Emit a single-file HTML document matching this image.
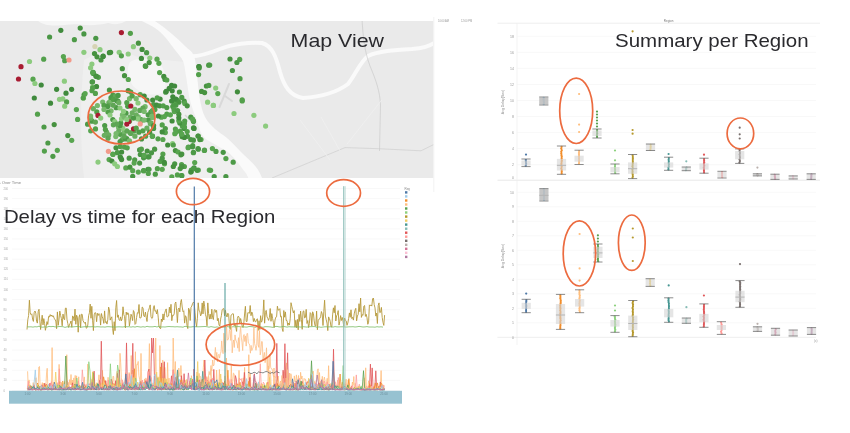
<!DOCTYPE html>
<html><head><meta charset="utf-8"><title>Dashboard</title>
<style>html,body{margin:0;padding:0;background:#fff;width:850px;height:433px;overflow:hidden}svg{display:block;filter:blur(0.3px)}</style>
</head><body>
<svg width="850" height="433" viewBox="0 0 850 433"><defs><filter id="soft" x="-5%" y="-5%" width="110%" height="110%"><feGaussianBlur stdDeviation="0.35"/></filter><clipPath id="mapclip"><rect x="0" y="21" width="433.5" height="157"/></clipPath></defs>
<g clip-path="url(#mapclip)">
<rect x="0" y="21" width="433.5" height="157" fill="#eaeaea"/>
<path d="M84 60 C100 50 120 48 140 58 L186 62 C192 80 196 110 202 130 C215 145 235 155 250 178 L84 178 C80 140 80 100 84 60Z" fill="#efefef"/>
<path d="M130 62 C138 57 152 58 160 64 C167 72 168 86 162 93 C152 97 140 93 133 86 C128 78 126 68 130 62Z" fill="#f6f6f6"/>
<path d="M100 19 C108 24 116 26 124 22 L130 19Z" fill="#f5f5f5"/>
<path d="M36 19 C40 24 48 26 58 25.5 C66 25 72 23.5 80 24.5 C90 26 100 25 108 23 C112 22 116 21 120 19Z" fill="#f6f6f6"/>
<path d="M138.0 19.0 C140.8 20.5 150.5 25.0 155.0 28.0 C159.5 31.0 161.7 33.3 165.0 37.0 C168.3 40.7 172.0 46.0 175.0 50.0 C178.0 54.0 181.2 56.7 183.0 61.0 C184.8 65.3 184.8 69.5 186.0 76.0 C187.2 82.5 188.3 93.0 190.0 100.0 C191.7 107.0 193.8 112.0 196.0 118.0 C198.2 124.0 199.7 131.5 203.0 136.0 C206.3 140.5 211.5 142.0 216.0 145.0 C220.5 148.0 225.2 149.5 230.0 154.0 C234.8 158.5 241.8 167.7 245.0 172.0 C248.2 176.3 248.3 178.7 249.0 180.0 L263.0 180.0 C261.8 177.8 259.7 171.7 256.0 167.0 C252.3 162.3 245.8 156.8 241.0 152.0 C236.2 147.2 231.3 141.8 227.0 138.0 C222.7 134.2 218.7 132.5 215.0 129.0 C211.3 125.5 207.5 121.8 205.0 117.0 C202.5 112.2 201.3 106.8 200.0 100.0 C198.7 93.2 198.0 83.3 197.0 76.0 C196.0 68.7 196.0 61.0 194.0 56.0 C192.0 51.0 188.7 49.7 185.0 46.0 C181.3 42.3 175.8 37.3 172.0 34.0 C168.2 30.7 165.3 28.5 162.0 26.0 C158.7 23.5 153.7 20.2 152.0 19.0 Z" fill="#fafafa"/>
<path d="M188 56 C195 57 205 55 220 49 C232 44 250 42 262 43 C272 46 276 56 280 72 C284 86 290 96 303 98 C318 97 336 93 348 84 C356 74 360 62 368 56 C378 51 395 50 412 49 C422 48 430 46 434 43" fill="none" stroke="#fafafa" stroke-width="4" stroke-linejoin="round" stroke-linecap="round"/>
<path d="M362 19 C363 35 364 50 370 66 C376 80 380 92 380.5 105 L379.5 151" fill="none" stroke="#c6c6c6" stroke-width="0.6"/>
<path d="M272 178 L345 147.6 L378.5 148.7 L421 150.8 L434 144.4" fill="none" stroke="#c9c9c9" stroke-width="0.6"/>
<path d="M381.7 100 L346.8 144.4 M321 117 L340 150.8 M300 120 L330 160" fill="none" stroke="#f1f1f1" stroke-width="0.7"/>
<path d="M229 84 L219.5 107 M225 96 L232 101" fill="none" stroke="#d9d9d9" stroke-width="2" stroke-linecap="round"/>
<path d="M185 115 L195 125" fill="none" stroke="#d6d6d6" stroke-width="1.4"/>
<g filter="url(#soft)">
<circle cx="104.3" cy="135.3" r="2.6" fill="#6aae5f"/>
<circle cx="120.8" cy="122.9" r="2.6" fill="#4e9a47"/>
<circle cx="138.0" cy="118.4" r="2.6" fill="#4e9a47"/>
<circle cx="108.9" cy="102.5" r="2.6" fill="#6aae5f"/>
<circle cx="95.5" cy="128.9" r="2.6" fill="#52a04a"/>
<circle cx="117.9" cy="101.1" r="2.6" fill="#4e9a47"/>
<circle cx="145.1" cy="106.7" r="2.6" fill="#78b96c"/>
<circle cx="116.2" cy="107.7" r="2.6" fill="#4e9a47"/>
<circle cx="129.5" cy="121.3" r="2.6" fill="#5ea655"/>
<circle cx="127.7" cy="106.3" r="2.6" fill="#4e9a47"/>
<circle cx="108.2" cy="105.7" r="2.6" fill="#5ea655"/>
<circle cx="110.8" cy="100.4" r="2.6" fill="#78b96c"/>
<circle cx="133.9" cy="130.9" r="2.6" fill="#52a04a"/>
<circle cx="91.9" cy="121.2" r="2.6" fill="#4e9a47"/>
<circle cx="90.6" cy="118.2" r="2.6" fill="#6aae5f"/>
<circle cx="106.6" cy="132.0" r="2.6" fill="#6aae5f"/>
<circle cx="90.6" cy="116.0" r="2.6" fill="#78b96c"/>
<circle cx="151.4" cy="112.6" r="2.6" fill="#4e9a47"/>
<circle cx="141.0" cy="119.7" r="2.6" fill="#4e9a47"/>
<circle cx="138.3" cy="116.8" r="2.6" fill="#78b96c"/>
<circle cx="97.4" cy="105.6" r="2.6" fill="#78b96c"/>
<circle cx="150.3" cy="123.8" r="2.6" fill="#6aae5f"/>
<circle cx="141.1" cy="120.7" r="2.6" fill="#6aae5f"/>
<circle cx="129.9" cy="132.5" r="2.6" fill="#6aae5f"/>
<circle cx="112.9" cy="95.2" r="2.6" fill="#4e9a47"/>
<circle cx="124.4" cy="131.7" r="2.6" fill="#78b96c"/>
<circle cx="113.2" cy="105.2" r="2.6" fill="#5ea655"/>
<circle cx="139.8" cy="110.4" r="2.6" fill="#5ea655"/>
<circle cx="130.1" cy="117.2" r="2.6" fill="#6aae5f"/>
<circle cx="126.7" cy="138.6" r="2.6" fill="#4e9a47"/>
<circle cx="142.8" cy="110.1" r="2.6" fill="#5ea655"/>
<circle cx="96.8" cy="111.9" r="2.6" fill="#52a04a"/>
<circle cx="122.1" cy="139.6" r="2.6" fill="#5ea655"/>
<circle cx="120.2" cy="134.3" r="2.6" fill="#52a04a"/>
<circle cx="122.4" cy="114.9" r="2.6" fill="#78b96c"/>
<circle cx="126.0" cy="113.2" r="2.6" fill="#4e9a47"/>
<circle cx="118.5" cy="127.2" r="2.6" fill="#78b96c"/>
<circle cx="111.1" cy="110.8" r="2.6" fill="#78b96c"/>
<circle cx="115.8" cy="136.6" r="2.6" fill="#78b96c"/>
<circle cx="111.0" cy="97.5" r="2.6" fill="#4e9a47"/>
<circle cx="172.1" cy="121.0" r="2.6" fill="#428d3e"/>
<circle cx="187.5" cy="136.3" r="2.6" fill="#4e9a47"/>
<circle cx="182.3" cy="126.0" r="2.6" fill="#53a04c"/>
<circle cx="179.8" cy="123.1" r="2.6" fill="#46923f"/>
<circle cx="182.2" cy="136.7" r="2.6" fill="#46923f"/>
<circle cx="165.7" cy="92.2" r="2.6" fill="#4e9a47"/>
<circle cx="160.1" cy="99.1" r="2.6" fill="#428d3e"/>
<circle cx="165.3" cy="128.5" r="2.6" fill="#4e9a47"/>
<circle cx="152.5" cy="110.5" r="2.6" fill="#53a04c"/>
<circle cx="184.2" cy="101.2" r="2.6" fill="#4a9644"/>
<circle cx="152.7" cy="100.1" r="2.6" fill="#428d3e"/>
<circle cx="153.6" cy="128.4" r="2.6" fill="#4a9644"/>
<circle cx="157.2" cy="97.8" r="2.6" fill="#53a04c"/>
<circle cx="184.2" cy="128.5" r="2.6" fill="#428d3e"/>
<circle cx="174.8" cy="133.7" r="2.6" fill="#58a550"/>
<circle cx="152.5" cy="136.2" r="2.6" fill="#428d3e"/>
<circle cx="174.0" cy="103.1" r="2.6" fill="#58a550"/>
<circle cx="184.7" cy="121.0" r="2.6" fill="#53a04c"/>
<circle cx="174.4" cy="111.6" r="2.6" fill="#58a550"/>
<circle cx="177.4" cy="100.1" r="2.6" fill="#58a550"/>
<circle cx="151.3" cy="115.2" r="2.6" fill="#428d3e"/>
<circle cx="165.3" cy="132.6" r="2.6" fill="#58a550"/>
<circle cx="143.6" cy="157.8" r="2.6" fill="#4e9a47"/>
<circle cx="160.1" cy="161.4" r="2.6" fill="#53a04c"/>
<circle cx="191.3" cy="170.0" r="2.6" fill="#4a9644"/>
<circle cx="147.2" cy="151.0" r="2.6" fill="#46923f"/>
<circle cx="157.4" cy="168.7" r="2.6" fill="#53a04c"/>
<circle cx="171.8" cy="176.8" r="2.6" fill="#58a550"/>
<circle cx="120.8" cy="158.0" r="2.6" fill="#4a9644"/>
<circle cx="140.3" cy="154.5" r="2.6" fill="#4a9644"/>
<circle cx="134.7" cy="159.8" r="2.6" fill="#4e9a47"/>
<circle cx="151.5" cy="152.8" r="2.6" fill="#4a9644"/>
<circle cx="112.8" cy="154.0" r="2.6" fill="#53a04c"/>
<circle cx="113.0" cy="154.5" r="2.6" fill="#58a550"/>
<circle cx="164.5" cy="163.8" r="2.6" fill="#58a550"/>
<circle cx="194.7" cy="162.5" r="2.6" fill="#58a550"/>
<circle cx="60.8" cy="30.3" r="2.6" fill="#3f8a3c"/>
<circle cx="80.2" cy="28.1" r="2.6" fill="#46923f"/>
<circle cx="83.9" cy="33.9" r="2.6" fill="#4a9644"/>
<circle cx="49.6" cy="37.0" r="2.6" fill="#4a9644"/>
<circle cx="74.4" cy="39.7" r="2.6" fill="#4e9a47"/>
<circle cx="95.8" cy="38.3" r="2.6" fill="#4a9644"/>
<circle cx="94.9" cy="46.5" r="2.6" fill="#d6d3b4"/>
<circle cx="100" cy="49.7" r="2.6" fill="#8ccb7e"/>
<circle cx="83.9" cy="52.3" r="2.6" fill="#8ccb7e"/>
<circle cx="63.4" cy="56.6" r="2.6" fill="#58a550"/>
<circle cx="64.7" cy="60.7" r="2.6" fill="#53a04c"/>
<circle cx="69" cy="60" r="2.6" fill="#f29a8a"/>
<circle cx="43.7" cy="59.2" r="2.6" fill="#53a04c"/>
<circle cx="29.5" cy="61.5" r="2.6" fill="#8ccb7e"/>
<circle cx="21" cy="66.7" r="2.6" fill="#a81d32"/>
<circle cx="94.5" cy="53.6" r="2.6" fill="#46923f"/>
<circle cx="97" cy="56.8" r="2.6" fill="#46923f"/>
<circle cx="103" cy="56.4" r="2.6" fill="#428d3e"/>
<circle cx="101" cy="60" r="2.6" fill="#4a9644"/>
<circle cx="109.4" cy="52.7" r="2.6" fill="#428d3e"/>
<circle cx="91.9" cy="64" r="2.6" fill="#8ccb7e"/>
<circle cx="90.6" cy="67.8" r="2.6" fill="#8ccb7e"/>
<circle cx="93.2" cy="72.4" r="2.6" fill="#46923f"/>
<circle cx="121.4" cy="32.6" r="2.6" fill="#a81d32"/>
<circle cx="130.4" cy="33.3" r="2.6" fill="#53a04c"/>
<circle cx="138.4" cy="43.2" r="2.6" fill="#46923f"/>
<circle cx="133.4" cy="46.7" r="2.6" fill="#8ccb7e"/>
<circle cx="142.1" cy="49.4" r="2.6" fill="#428d3e"/>
<circle cx="146.6" cy="52.7" r="2.6" fill="#4e9a47"/>
<circle cx="110.6" cy="52.3" r="2.6" fill="#46923f"/>
<circle cx="119.2" cy="52.3" r="2.6" fill="#8ccb7e"/>
<circle cx="121.4" cy="55.8" r="2.6" fill="#53a04c"/>
<circle cx="128.2" cy="54" r="2.6" fill="#8ccb7e"/>
<circle cx="103.2" cy="56.2" r="2.6" fill="#428d3e"/>
<circle cx="141.4" cy="58.4" r="2.6" fill="#428d3e"/>
<circle cx="149.8" cy="58.1" r="2.6" fill="#8ccb7e"/>
<circle cx="149.2" cy="62.6" r="2.6" fill="#46923f"/>
<circle cx="145.3" cy="65.9" r="2.6" fill="#46923f"/>
<circle cx="157" cy="59.2" r="2.6" fill="#58a550"/>
<circle cx="158.9" cy="63.3" r="2.6" fill="#58a550"/>
<circle cx="122.3" cy="68.7" r="2.6" fill="#46923f"/>
<circle cx="199" cy="66.5" r="2.6" fill="#428d3e"/>
<circle cx="208.7" cy="65.2" r="2.6" fill="#4a9644"/>
<circle cx="18.5" cy="79" r="2.6" fill="#a81d32"/>
<circle cx="33" cy="79.2" r="2.6" fill="#58a550"/>
<circle cx="34.9" cy="83.5" r="2.6" fill="#8ccb7e"/>
<circle cx="41.2" cy="85" r="2.6" fill="#3f8a3c"/>
<circle cx="64.4" cy="81.2" r="2.6" fill="#8ccb7e"/>
<circle cx="56.6" cy="89.3" r="2.6" fill="#3f8a3c"/>
<circle cx="66" cy="93.2" r="2.6" fill="#3f8a3c"/>
<circle cx="71.6" cy="89.3" r="2.6" fill="#3f8a3c"/>
<circle cx="34.3" cy="98" r="2.6" fill="#3f8a3c"/>
<circle cx="59.5" cy="99.3" r="2.6" fill="#8ccb7e"/>
<circle cx="62.8" cy="98.9" r="2.6" fill="#8ccb7e"/>
<circle cx="66.6" cy="101.9" r="2.6" fill="#53a04c"/>
<circle cx="64.7" cy="106.2" r="2.6" fill="#8ccb7e"/>
<circle cx="50.5" cy="103.2" r="2.6" fill="#3f8a3c"/>
<circle cx="76.4" cy="109.6" r="2.6" fill="#58a550"/>
<circle cx="37.5" cy="114.2" r="2.6" fill="#53a04c"/>
<circle cx="77.6" cy="119.4" r="2.6" fill="#58a550"/>
<circle cx="93.2" cy="73.4" r="2.6" fill="#4e9a47"/>
<circle cx="95.8" cy="76" r="2.6" fill="#46923f"/>
<circle cx="98.4" cy="77.3" r="2.6" fill="#53a04c"/>
<circle cx="92.5" cy="81.8" r="2.6" fill="#46923f"/>
<circle cx="92.5" cy="87" r="2.6" fill="#8ccb7e"/>
<circle cx="96.4" cy="86.7" r="2.6" fill="#8ccb7e"/>
<circle cx="84.1" cy="94.8" r="2.6" fill="#46923f"/>
<circle cx="83.5" cy="98" r="2.6" fill="#8ccb7e"/>
<circle cx="124.5" cy="75.7" r="2.6" fill="#46923f"/>
<circle cx="128.3" cy="79.5" r="2.6" fill="#58a550"/>
<circle cx="92.7" cy="72.5" r="2.6" fill="#58a550"/>
<circle cx="96.5" cy="76.4" r="2.6" fill="#46923f"/>
<circle cx="92.1" cy="82" r="2.6" fill="#4e9a47"/>
<circle cx="96.5" cy="86.5" r="2.6" fill="#428d3e"/>
<circle cx="92.7" cy="87.8" r="2.6" fill="#53a04c"/>
<circle cx="85.1" cy="93.5" r="2.6" fill="#58a550"/>
<circle cx="83.2" cy="98" r="2.6" fill="#53a04c"/>
<circle cx="87.6" cy="124.2" r="2.6" fill="#4e9a47"/>
<circle cx="139.6" cy="149.9" r="2.6" fill="#4a9644"/>
<circle cx="116" cy="147.8" r="2.6" fill="#46923f"/>
<circle cx="120.2" cy="146.4" r="2.6" fill="#53a04c"/>
<circle cx="124.4" cy="147.1" r="2.6" fill="#53a04c"/>
<circle cx="127.2" cy="147.8" r="2.6" fill="#53a04c"/>
<circle cx="117.4" cy="152.7" r="2.6" fill="#4e9a47"/>
<circle cx="121.6" cy="152" r="2.6" fill="#428d3e"/>
<circle cx="120.2" cy="156.8" r="2.6" fill="#428d3e"/>
<circle cx="121.6" cy="159.6" r="2.6" fill="#428d3e"/>
<circle cx="108.4" cy="151.3" r="2.6" fill="#f29a8a"/>
<circle cx="109.1" cy="159.6" r="2.6" fill="#58a550"/>
<circle cx="111.9" cy="161" r="2.6" fill="#428d3e"/>
<circle cx="114.7" cy="163.8" r="2.6" fill="#8ccb7e"/>
<circle cx="117.4" cy="166.5" r="2.6" fill="#8ccb7e"/>
<circle cx="98" cy="162.1" r="2.6" fill="#8ccb7e"/>
<circle cx="129.2" cy="158.2" r="2.6" fill="#4a9644"/>
<circle cx="134.1" cy="163.1" r="2.6" fill="#58a550"/>
<circle cx="139.6" cy="163.1" r="2.6" fill="#4a9644"/>
<circle cx="125.8" cy="167.9" r="2.6" fill="#58a550"/>
<circle cx="129.9" cy="167.2" r="2.6" fill="#46923f"/>
<circle cx="132.7" cy="170.7" r="2.6" fill="#58a550"/>
<circle cx="138.3" cy="172.1" r="2.6" fill="#58a550"/>
<circle cx="143.8" cy="170.7" r="2.6" fill="#53a04c"/>
<circle cx="148" cy="169.3" r="2.6" fill="#428d3e"/>
<circle cx="143.8" cy="155.4" r="2.6" fill="#4a9644"/>
<circle cx="148" cy="156.8" r="2.6" fill="#4a9644"/>
<circle cx="132.7" cy="176.3" r="2.6" fill="#4a9644"/>
<circle cx="145.7" cy="66.3" r="2.6" fill="#4e9a47"/>
<circle cx="162.2" cy="124.9" r="2.6" fill="#53a04c"/>
<circle cx="162.2" cy="131.9" r="2.6" fill="#428d3e"/>
<circle cx="158" cy="138.8" r="2.6" fill="#53a04c"/>
<circle cx="162.9" cy="139.5" r="2.6" fill="#58a550"/>
<circle cx="175.4" cy="129.1" r="2.6" fill="#53a04c"/>
<circle cx="176.1" cy="131.9" r="2.6" fill="#58a550"/>
<circle cx="180.2" cy="131.2" r="2.6" fill="#53a04c"/>
<circle cx="181.6" cy="134.6" r="2.6" fill="#46923f"/>
<circle cx="184.4" cy="137.4" r="2.6" fill="#428d3e"/>
<circle cx="178.8" cy="120.8" r="2.6" fill="#58a550"/>
<circle cx="184.4" cy="123.5" r="2.6" fill="#53a04c"/>
<circle cx="193.4" cy="120.8" r="2.6" fill="#46923f"/>
<circle cx="194.1" cy="128.4" r="2.6" fill="#428d3e"/>
<circle cx="198.3" cy="136" r="2.6" fill="#58a550"/>
<circle cx="201" cy="139.5" r="2.6" fill="#58a550"/>
<circle cx="193.4" cy="140.2" r="2.6" fill="#4a9644"/>
<circle cx="192.7" cy="145.7" r="2.6" fill="#4e9a47"/>
<circle cx="188.5" cy="147.1" r="2.6" fill="#46923f"/>
<circle cx="198.3" cy="149.2" r="2.6" fill="#4a9644"/>
<circle cx="204.5" cy="150.2" r="2.6" fill="#4a9644"/>
<circle cx="193.4" cy="152.7" r="2.6" fill="#53a04c"/>
<circle cx="167.7" cy="145" r="2.6" fill="#428d3e"/>
<circle cx="172.6" cy="143.7" r="2.6" fill="#8ccb7e"/>
<circle cx="173.3" cy="145" r="2.6" fill="#53a04c"/>
<circle cx="154.6" cy="149.2" r="2.6" fill="#4a9644"/>
<circle cx="141.4" cy="149.2" r="2.6" fill="#53a04c"/>
<circle cx="144.2" cy="155.4" r="2.6" fill="#58a550"/>
<circle cx="149" cy="156.8" r="2.6" fill="#4a9644"/>
<circle cx="162.9" cy="154.1" r="2.6" fill="#53a04c"/>
<circle cx="162.2" cy="158.2" r="2.6" fill="#4a9644"/>
<circle cx="164.3" cy="162.4" r="2.6" fill="#428d3e"/>
<circle cx="175.4" cy="150.6" r="2.6" fill="#46923f"/>
<circle cx="178.1" cy="152" r="2.6" fill="#58a550"/>
<circle cx="180.9" cy="154.8" r="2.6" fill="#46923f"/>
<circle cx="174.7" cy="163.8" r="2.6" fill="#4a9644"/>
<circle cx="173.3" cy="166.5" r="2.6" fill="#46923f"/>
<circle cx="181.6" cy="164.5" r="2.6" fill="#53a04c"/>
<circle cx="184.4" cy="166.5" r="2.6" fill="#53a04c"/>
<circle cx="180.2" cy="168.6" r="2.6" fill="#4a9644"/>
<circle cx="194.1" cy="167.9" r="2.6" fill="#428d3e"/>
<circle cx="198.3" cy="170" r="2.6" fill="#53a04c"/>
<circle cx="191.3" cy="171.4" r="2.6" fill="#58a550"/>
<circle cx="162.2" cy="169.3" r="2.6" fill="#58a550"/>
<circle cx="143.5" cy="170.7" r="2.6" fill="#53a04c"/>
<circle cx="149" cy="169.3" r="2.6" fill="#4e9a47"/>
<circle cx="148.3" cy="173.5" r="2.6" fill="#53a04c"/>
<circle cx="155.3" cy="174.2" r="2.6" fill="#4e9a47"/>
<circle cx="177.4" cy="174.9" r="2.6" fill="#53a04c"/>
<circle cx="181.6" cy="175.6" r="2.6" fill="#53a04c"/>
<circle cx="209.3" cy="170" r="2.6" fill="#58a550"/>
<circle cx="213.3" cy="105.4" r="2.6" fill="#8ccb7e"/>
<circle cx="242.2" cy="100.9" r="2.6" fill="#53a04c"/>
<circle cx="234" cy="113.5" r="2.6" fill="#8ccb7e"/>
<circle cx="253.9" cy="115.3" r="2.6" fill="#8ccb7e"/>
<circle cx="265.6" cy="126.1" r="2.6" fill="#8ccb7e"/>
<circle cx="193.5" cy="121.6" r="2.6" fill="#53a04c"/>
<circle cx="193.5" cy="127.9" r="2.6" fill="#428d3e"/>
<circle cx="198" cy="136" r="2.6" fill="#46923f"/>
<circle cx="199.8" cy="139.6" r="2.6" fill="#46923f"/>
<circle cx="188.1" cy="147.7" r="2.6" fill="#58a550"/>
<circle cx="192.6" cy="146.8" r="2.6" fill="#4a9644"/>
<circle cx="198" cy="148.6" r="2.6" fill="#4a9644"/>
<circle cx="193.5" cy="152.3" r="2.6" fill="#4e9a47"/>
<circle cx="204.3" cy="150.5" r="2.6" fill="#53a04c"/>
<circle cx="212.4" cy="148.6" r="2.6" fill="#58a550"/>
<circle cx="216" cy="151.4" r="2.6" fill="#4e9a47"/>
<circle cx="223.2" cy="152.3" r="2.6" fill="#4a9644"/>
<circle cx="225.9" cy="158.6" r="2.6" fill="#53a04c"/>
<circle cx="233.2" cy="162.2" r="2.6" fill="#4e9a47"/>
<circle cx="210.6" cy="170.3" r="2.6" fill="#53a04c"/>
<circle cx="193.5" cy="168.5" r="2.6" fill="#4e9a47"/>
<circle cx="197.1" cy="170.3" r="2.6" fill="#4a9644"/>
<circle cx="190.8" cy="172.1" r="2.6" fill="#428d3e"/>
<circle cx="214.2" cy="176.6" r="2.6" fill="#4a9644"/>
<circle cx="225.9" cy="176.6" r="2.6" fill="#4a9644"/>
<circle cx="181.8" cy="166.7" r="2.6" fill="#46923f"/>
<circle cx="181.8" cy="154" r="2.6" fill="#46923f"/>
<circle cx="181.8" cy="134.2" r="2.6" fill="#58a550"/>
<circle cx="184.5" cy="127" r="2.6" fill="#53a04c"/>
<circle cx="187.2" cy="131.5" r="2.6" fill="#53a04c"/>
<circle cx="190.8" cy="139.6" r="2.6" fill="#4a9644"/>
<circle cx="181.8" cy="175.7" r="2.6" fill="#4e9a47"/>
<circle cx="198.9" cy="66.6" r="2.6" fill="#428d3e"/>
<circle cx="209.7" cy="65" r="2.6" fill="#4e9a47"/>
<circle cx="230" cy="59" r="2.6" fill="#46923f"/>
<circle cx="239.7" cy="59.4" r="2.6" fill="#53a04c"/>
<circle cx="236.9" cy="62.5" r="2.6" fill="#4a9644"/>
<circle cx="232.4" cy="70.5" r="2.6" fill="#4a9644"/>
<circle cx="240" cy="78.7" r="2.6" fill="#4e9a47"/>
<circle cx="215.7" cy="88.1" r="2.6" fill="#8ccb7e"/>
<circle cx="217.8" cy="93.6" r="2.6" fill="#58a550"/>
<circle cx="237.4" cy="91.8" r="2.6" fill="#428d3e"/>
<circle cx="242.2" cy="99.9" r="2.6" fill="#53a04c"/>
<circle cx="213.4" cy="105.4" r="2.6" fill="#8ccb7e"/>
<circle cx="44" cy="127" r="2.6" fill="#4e9a47"/>
<circle cx="54.2" cy="124.6" r="2.6" fill="#46923f"/>
<circle cx="67.8" cy="135.6" r="2.6" fill="#46923f"/>
<circle cx="71.7" cy="140.3" r="2.6" fill="#58a550"/>
<circle cx="47.9" cy="143" r="2.6" fill="#4e9a47"/>
<circle cx="44.4" cy="151.1" r="2.6" fill="#53a04c"/>
<circle cx="57.3" cy="150.3" r="2.6" fill="#58a550"/>
<circle cx="52.9" cy="156.3" r="2.6" fill="#4e9a47"/>
<circle cx="92" cy="90.7" r="2.6" fill="#53a04c"/>
<circle cx="95.4" cy="93.4" r="2.6" fill="#53a04c"/>
<circle cx="109.4" cy="90" r="2.6" fill="#4a9644"/>
<circle cx="115.4" cy="96" r="2.6" fill="#5ea655"/>
<circle cx="118.1" cy="95.4" r="2.6" fill="#4e9a47"/>
<circle cx="113.4" cy="99.4" r="2.6" fill="#52a04a"/>
<circle cx="116.8" cy="100.7" r="2.6" fill="#4e9a47"/>
<circle cx="118.8" cy="102.7" r="2.6" fill="#6aae5f"/>
<circle cx="102.7" cy="102" r="2.6" fill="#78b96c"/>
<circle cx="104" cy="105.4" r="2.6" fill="#52a04a"/>
<circle cx="107.4" cy="106.7" r="2.6" fill="#4e9a47"/>
<circle cx="108" cy="112" r="2.6" fill="#52a04a"/>
<circle cx="104" cy="109.4" r="2.6" fill="#78b96c"/>
<circle cx="123.5" cy="111.4" r="2.6" fill="#8ccb7e"/>
<circle cx="126.8" cy="102.7" r="2.6" fill="#52a04a"/>
<circle cx="129.5" cy="98.7" r="2.6" fill="#78b96c"/>
<circle cx="132.2" cy="96" r="2.6" fill="#52a04a"/>
<circle cx="136.2" cy="98.7" r="2.6" fill="#78b96c"/>
<circle cx="140.2" cy="94.7" r="2.6" fill="#58a550"/>
<circle cx="144.2" cy="96" r="2.6" fill="#428d3e"/>
<circle cx="146.9" cy="100" r="2.6" fill="#46923f"/>
<circle cx="130.8" cy="106" r="2.6" fill="#a81d32"/>
<circle cx="134.9" cy="109.4" r="2.6" fill="#78b96c"/>
<circle cx="132.2" cy="112.8" r="2.6" fill="#6aae5f"/>
<circle cx="136.2" cy="114.8" r="2.6" fill="#6aae5f"/>
<circle cx="142.9" cy="108" r="2.6" fill="#5ea655"/>
<circle cx="144.2" cy="111.4" r="2.6" fill="#78b96c"/>
<circle cx="148.2" cy="114.8" r="2.6" fill="#4e9a47"/>
<circle cx="150.9" cy="112.1" r="2.6" fill="#4e9a47"/>
<circle cx="152.3" cy="117.5" r="2.6" fill="#78b96c"/>
<circle cx="148.2" cy="120.1" r="2.6" fill="#4e9a47"/>
<circle cx="150.9" cy="122.8" r="2.6" fill="#6aae5f"/>
<circle cx="153.6" cy="125.5" r="2.6" fill="#46923f"/>
<circle cx="144.2" cy="120.1" r="2.6" fill="#78b96c"/>
<circle cx="140.2" cy="123.9" r="2.6" fill="#f29a8a"/>
<circle cx="137.5" cy="118.8" r="2.6" fill="#8ccb7e"/>
<circle cx="133.5" cy="118.1" r="2.6" fill="#4e9a47"/>
<circle cx="128.8" cy="121.5" r="2.6" fill="#a81d32"/>
<circle cx="126.8" cy="124.1" r="2.6" fill="#a81d32"/>
<circle cx="133.5" cy="128.8" r="2.6" fill="#a81d32"/>
<circle cx="136.2" cy="128.2" r="2.6" fill="#52a04a"/>
<circle cx="138.9" cy="132.2" r="2.6" fill="#4e9a47"/>
<circle cx="142.9" cy="130.8" r="2.6" fill="#52a04a"/>
<circle cx="146.9" cy="128.2" r="2.6" fill="#6aae5f"/>
<circle cx="149.6" cy="132.2" r="2.6" fill="#46923f"/>
<circle cx="152.3" cy="136.2" r="2.6" fill="#58a550"/>
<circle cx="145.6" cy="136.2" r="2.6" fill="#53a04c"/>
<circle cx="141.5" cy="138.9" r="2.6" fill="#46923f"/>
<circle cx="134.9" cy="136.2" r="2.6" fill="#6aae5f"/>
<circle cx="130.8" cy="133.5" r="2.6" fill="#5ea655"/>
<circle cx="126.8" cy="130.8" r="2.6" fill="#5ea655"/>
<circle cx="122.8" cy="128.2" r="2.6" fill="#8ccb7e"/>
<circle cx="120.1" cy="125.5" r="2.6" fill="#4e9a47"/>
<circle cx="118.8" cy="130.8" r="2.6" fill="#6aae5f"/>
<circle cx="116.1" cy="133.5" r="2.6" fill="#78b96c"/>
<circle cx="112.8" cy="119.5" r="2.6" fill="#4e9a47"/>
<circle cx="114.8" cy="121.5" r="2.6" fill="#8ccb7e"/>
<circle cx="116.8" cy="124.1" r="2.6" fill="#5ea655"/>
<circle cx="113.4" cy="124.8" r="2.6" fill="#5ea655"/>
<circle cx="121.5" cy="118.8" r="2.6" fill="#8ccb7e"/>
<circle cx="124.1" cy="116.8" r="2.6" fill="#78b96c"/>
<circle cx="126.8" cy="119.5" r="2.6" fill="#8ccb7e"/>
<circle cx="98" cy="115.4" r="2.6" fill="#a81d32"/>
<circle cx="100.7" cy="118.1" r="2.6" fill="#8ccb7e"/>
<circle cx="95.4" cy="122.1" r="2.6" fill="#5ea655"/>
<circle cx="93.4" cy="108.7" r="2.6" fill="#6aae5f"/>
<circle cx="104.7" cy="125.5" r="2.6" fill="#4e9a47"/>
<circle cx="105.4" cy="129.5" r="2.6" fill="#52a04a"/>
<circle cx="108.7" cy="134.9" r="2.6" fill="#6aae5f"/>
<circle cx="108" cy="138.2" r="2.6" fill="#5ea655"/>
<circle cx="120.1" cy="141.5" r="2.6" fill="#4e9a47"/>
<circle cx="125.5" cy="138.9" r="2.6" fill="#4e9a47"/>
<circle cx="129.5" cy="140.9" r="2.6" fill="#78b96c"/>
<circle cx="124.1" cy="136.2" r="2.6" fill="#5ea655"/>
<circle cx="90.7" cy="130.8" r="2.6" fill="#58a550"/>
<circle cx="128.2" cy="90.7" r="2.6" fill="#46923f"/>
<circle cx="130.8" cy="92" r="2.6" fill="#53a04c"/>
<circle cx="153.6" cy="104.7" r="2.6" fill="#4e9a47"/>
<circle cx="154.9" cy="109.4" r="2.6" fill="#53a04c"/>
<circle cx="110" cy="115" r="2.6" fill="#8ccb7e"/>
<circle cx="120" cy="108" r="2.6" fill="#8ccb7e"/>
<circle cx="138" cy="103" r="2.6" fill="#8ccb7e"/>
<circle cx="159.6" cy="72.6" r="2.6" fill="#58a550"/>
<circle cx="163.8" cy="76.4" r="2.6" fill="#428d3e"/>
<circle cx="165" cy="79.4" r="2.6" fill="#46923f"/>
<circle cx="166.8" cy="80" r="2.6" fill="#53a04c"/>
<circle cx="171.6" cy="85.4" r="2.6" fill="#3f8a3c"/>
<circle cx="174.6" cy="86" r="2.6" fill="#3f8a3c"/>
<circle cx="169.2" cy="88.4" r="2.6" fill="#3f8a3c"/>
<circle cx="166.2" cy="91.4" r="2.6" fill="#3f8a3c"/>
<circle cx="172.2" cy="90.8" r="2.6" fill="#3f8a3c"/>
<circle cx="179.4" cy="92" r="2.6" fill="#4e9a47"/>
<circle cx="172.8" cy="96.8" r="2.6" fill="#3f8a3c"/>
<circle cx="175.8" cy="99.2" r="2.6" fill="#3f8a3c"/>
<circle cx="181.8" cy="97.4" r="2.6" fill="#4e9a47"/>
<circle cx="171.6" cy="101" r="2.6" fill="#3f8a3c"/>
<circle cx="178.8" cy="102.2" r="2.6" fill="#46923f"/>
<circle cx="184.8" cy="103.4" r="2.6" fill="#58a550"/>
<circle cx="187.2" cy="105.8" r="2.6" fill="#46923f"/>
<circle cx="172.8" cy="106.4" r="2.6" fill="#4e9a47"/>
<circle cx="175.8" cy="105.2" r="2.6" fill="#4e9a47"/>
<circle cx="174" cy="109.4" r="2.6" fill="#53a04c"/>
<circle cx="177.6" cy="110.6" r="2.6" fill="#4e9a47"/>
<circle cx="178.8" cy="114.2" r="2.6" fill="#46923f"/>
<circle cx="178.8" cy="117.8" r="2.6" fill="#428d3e"/>
<circle cx="190.8" cy="117.2" r="2.6" fill="#4a9644"/>
<circle cx="192.6" cy="119" r="2.6" fill="#58a550"/>
<circle cx="156.6" cy="105.2" r="2.6" fill="#428d3e"/>
<circle cx="159.6" cy="105.8" r="2.6" fill="#46923f"/>
<circle cx="163.2" cy="105.8" r="2.6" fill="#53a04c"/>
<circle cx="166.8" cy="107.6" r="2.6" fill="#4e9a47"/>
<circle cx="166.8" cy="114.2" r="2.6" fill="#53a04c"/>
<circle cx="170.4" cy="114.8" r="2.6" fill="#58a550"/>
<circle cx="164.4" cy="116.6" r="2.6" fill="#58a550"/>
<circle cx="161.4" cy="117.2" r="2.6" fill="#58a550"/>
<circle cx="158.4" cy="116" r="2.6" fill="#428d3e"/>
<circle cx="152.4" cy="111.2" r="2.6" fill="#5ea655"/>
<circle cx="151.8" cy="116" r="2.6" fill="#78b96c"/>
<circle cx="198.6" cy="74.6" r="2.6" fill="#53a04c"/>
<circle cx="199.2" cy="68" r="2.6" fill="#46923f"/>
<circle cx="206.4" cy="86" r="2.6" fill="#46923f"/>
<circle cx="208.8" cy="85.4" r="2.6" fill="#4e9a47"/>
<circle cx="201.6" cy="91.4" r="2.6" fill="#46923f"/>
<circle cx="204.6" cy="92.6" r="2.6" fill="#46923f"/>
<circle cx="207.6" cy="102.2" r="2.6" fill="#8ccb7e"/>
</g>
</g>
<ellipse cx="121.5" cy="117.5" rx="33.5" ry="26.5" fill="none" stroke="#ec6b3f" stroke-width="1.7"/>
<text x="290.6" y="47.0" font-family='"Liberation Sans", Arial, sans-serif' font-size="19" fill="#2a2a2e" textLength="93.4" lengthAdjust="spacingAndGlyphs">Map View</text>
<text x="438" y="22" font-family='"Liberation Sans", Arial, sans-serif' font-size="2.6" fill="#999">10:00 AM</text>
<text x="461" y="22" font-family='"Liberation Sans", Arial, sans-serif' font-size="2.6" fill="#999">12:00 PM</text>
<line x1="433.8" y1="17" x2="433.8" y2="192" stroke="#e8e8e8" stroke-width="0.6"/>
<text x="21" y="183.5" font-family='"Liberation Sans", Arial, sans-serif' font-size="4.2" fill="#888" text-anchor="end">Delays Over Time</text>
<line x1="12" y1="188.5" x2="400" y2="188.5" stroke="#f3f3f3" stroke-width="0.6"/>
<text x="3.5" y="189.5" font-family='"Liberation Sans", Arial, sans-serif' font-size="2.8" fill="#aaa">200</text>
<line x1="12" y1="198.6" x2="400" y2="198.6" stroke="#f3f3f3" stroke-width="0.6"/>
<text x="3.5" y="199.6" font-family='"Liberation Sans", Arial, sans-serif' font-size="2.8" fill="#aaa">190</text>
<line x1="12" y1="208.7" x2="400" y2="208.7" stroke="#f3f3f3" stroke-width="0.6"/>
<text x="3.5" y="209.7" font-family='"Liberation Sans", Arial, sans-serif' font-size="2.8" fill="#aaa">180</text>
<line x1="12" y1="218.8" x2="400" y2="218.8" stroke="#f3f3f3" stroke-width="0.6"/>
<text x="3.5" y="219.8" font-family='"Liberation Sans", Arial, sans-serif' font-size="2.8" fill="#aaa">170</text>
<line x1="12" y1="228.9" x2="400" y2="228.9" stroke="#f3f3f3" stroke-width="0.6"/>
<text x="3.5" y="229.9" font-family='"Liberation Sans", Arial, sans-serif' font-size="2.8" fill="#aaa">160</text>
<line x1="12" y1="239.0" x2="400" y2="239.0" stroke="#f3f3f3" stroke-width="0.6"/>
<text x="3.5" y="240.0" font-family='"Liberation Sans", Arial, sans-serif' font-size="2.8" fill="#aaa">150</text>
<line x1="12" y1="249.1" x2="400" y2="249.1" stroke="#f3f3f3" stroke-width="0.6"/>
<text x="3.5" y="250.1" font-family='"Liberation Sans", Arial, sans-serif' font-size="2.8" fill="#aaa">140</text>
<line x1="12" y1="259.2" x2="400" y2="259.2" stroke="#f3f3f3" stroke-width="0.6"/>
<text x="3.5" y="260.2" font-family='"Liberation Sans", Arial, sans-serif' font-size="2.8" fill="#aaa">130</text>
<line x1="12" y1="269.3" x2="400" y2="269.3" stroke="#f3f3f3" stroke-width="0.6"/>
<text x="3.5" y="270.3" font-family='"Liberation Sans", Arial, sans-serif' font-size="2.8" fill="#aaa">120</text>
<line x1="12" y1="279.4" x2="400" y2="279.4" stroke="#f3f3f3" stroke-width="0.6"/>
<text x="3.5" y="280.4" font-family='"Liberation Sans", Arial, sans-serif' font-size="2.8" fill="#aaa">110</text>
<line x1="12" y1="289.5" x2="400" y2="289.5" stroke="#f3f3f3" stroke-width="0.6"/>
<text x="3.5" y="290.5" font-family='"Liberation Sans", Arial, sans-serif' font-size="2.8" fill="#aaa">100</text>
<line x1="12" y1="299.6" x2="400" y2="299.6" stroke="#f3f3f3" stroke-width="0.6"/>
<text x="3.5" y="300.6" font-family='"Liberation Sans", Arial, sans-serif' font-size="2.8" fill="#aaa">90</text>
<line x1="12" y1="309.7" x2="400" y2="309.7" stroke="#f3f3f3" stroke-width="0.6"/>
<text x="3.5" y="310.7" font-family='"Liberation Sans", Arial, sans-serif' font-size="2.8" fill="#aaa">80</text>
<line x1="12" y1="319.8" x2="400" y2="319.8" stroke="#f3f3f3" stroke-width="0.6"/>
<text x="3.5" y="320.8" font-family='"Liberation Sans", Arial, sans-serif' font-size="2.8" fill="#aaa">70</text>
<line x1="12" y1="329.9" x2="400" y2="329.9" stroke="#f3f3f3" stroke-width="0.6"/>
<text x="3.5" y="330.9" font-family='"Liberation Sans", Arial, sans-serif' font-size="2.8" fill="#aaa">60</text>
<line x1="12" y1="340.0" x2="400" y2="340.0" stroke="#f3f3f3" stroke-width="0.6"/>
<text x="3.5" y="341.0" font-family='"Liberation Sans", Arial, sans-serif' font-size="2.8" fill="#aaa">50</text>
<line x1="12" y1="350.1" x2="400" y2="350.1" stroke="#f3f3f3" stroke-width="0.6"/>
<text x="3.5" y="351.1" font-family='"Liberation Sans", Arial, sans-serif' font-size="2.8" fill="#aaa">40</text>
<line x1="12" y1="360.2" x2="400" y2="360.2" stroke="#f3f3f3" stroke-width="0.6"/>
<text x="3.5" y="361.2" font-family='"Liberation Sans", Arial, sans-serif' font-size="2.8" fill="#aaa">30</text>
<line x1="12" y1="370.3" x2="400" y2="370.3" stroke="#f3f3f3" stroke-width="0.6"/>
<text x="3.5" y="371.3" font-family='"Liberation Sans", Arial, sans-serif' font-size="2.8" fill="#aaa">20</text>
<line x1="12" y1="380.4" x2="400" y2="380.4" stroke="#f3f3f3" stroke-width="0.6"/>
<text x="3.5" y="381.4" font-family='"Liberation Sans", Arial, sans-serif' font-size="2.8" fill="#aaa">10</text>
<line x1="12" y1="390.5" x2="400" y2="390.5" stroke="#f3f3f3" stroke-width="0.6"/>
<text x="3.5" y="391.5" font-family='"Liberation Sans", Arial, sans-serif' font-size="2.8" fill="#aaa">0</text>
<polyline fill="none" stroke="#b5993a" stroke-width="0.9" stroke-linejoin="miter" points="27.0,329.5 27.8,319.8 28.6,315.6 29.4,300.2 30.2,312.9 31.0,314.6 31.8,313.8 32.6,319.1 33.4,321.4 34.2,312.5 35.0,311.0 35.8,313.2 36.6,321.5 37.4,323.1 38.2,311.5 39.0,309.3 39.8,320.7 40.6,329.5 41.4,321.8 42.2,315.2 43.0,324.9 43.8,318.6 44.6,323.5 45.4,330.3 46.2,326.4 47.0,321.6 47.8,324.5 48.6,316.4 49.4,317.0 50.2,314.6 51.0,316.3 51.8,315.0 52.6,316.6 53.4,315.8 54.2,318.6 55.0,319.3 55.8,321.0 56.6,328.7 57.4,311.9 58.2,325.3 59.0,319.3 59.8,311.1 60.6,315.5 61.4,318.5 62.2,325.8 63.0,314.1 63.8,318.9 64.6,319.7 65.4,308.2 66.2,308.0 67.0,319.6 67.8,323.6 68.6,327.4 69.4,324.9 70.2,323.2 71.0,321.0 71.8,327.3 72.6,315.9 73.4,317.0 74.2,320.7 75.0,309.1 75.8,324.3 76.6,315.2 77.4,317.2 78.2,332.2 79.0,317.3 79.8,314.7 80.6,327.6 81.4,314.2 82.2,314.4 83.0,320.6 83.8,322.0 84.6,323.3 85.4,322.2 86.2,328.2 87.0,327.9 87.8,325.0 88.6,315.8 89.4,312.8 90.2,304.1 91.0,318.3 91.8,306.3 92.6,320.2 93.4,330.6 94.2,314.8 95.0,312.5 95.8,313.1 96.6,321.7 97.4,313.3 98.2,315.5 99.0,313.6 99.8,314.7 100.6,325.1 101.4,313.5 102.2,316.7 103.0,318.9 103.8,323.4 104.6,310.9 105.4,322.5 106.2,321.6 107.0,324.1 107.8,319.6 108.6,307.1 109.4,309.8 110.2,320.1 111.0,318.0 111.8,316.8 112.6,328.4 113.4,334.5 114.2,321.7 115.0,330.7 115.8,307.8 116.6,300.5 117.4,317.3 118.2,314.9 119.0,319.6 119.8,320.6 120.6,316.9 121.4,320.8 122.2,318.5 123.0,306.8 123.8,314.6 124.6,316.7 125.4,328.0 126.2,312.1 127.0,314.8 127.8,312.7 128.6,313.9 129.4,325.9 130.2,321.1 131.0,314.2 131.8,316.1 132.6,320.6 133.4,310.5 134.2,312.1 135.0,324.4 135.8,323.5 136.6,317.4 137.4,312.7 138.2,313.4 139.0,304.5 139.8,318.0 140.6,318.1 141.4,316.8 142.2,307.0 143.0,307.8 143.8,316.0 144.6,316.8 145.4,312.1 146.2,317.2 147.0,321.5 147.8,312.3 148.6,310.4 149.4,307.6 150.2,304.9 151.0,316.8 151.8,318.5 152.6,317.8 153.4,307.8 154.2,305.6 155.0,311.3 155.8,310.7 156.6,314.0 157.4,309.6 158.2,317.1 159.0,326.8 159.8,328.0 160.6,328.8 161.4,319.0 162.2,321.6 163.0,313.9 163.8,320.0 164.6,313.4 165.4,310.7 166.2,308.9 167.0,317.0 167.8,316.7 168.6,316.0 169.4,307.2 170.2,312.9 171.0,304.3 171.8,320.7 172.6,315.2 173.4,315.6 174.2,313.8 175.0,303.6 175.8,302.0 176.6,310.2 177.4,322.6 178.2,309.3 179.0,308.0 179.8,311.9 180.6,302.4 181.4,299.5 182.2,307.0 183.0,311.7 183.8,310.8 184.6,323.1 185.4,315.7 186.2,317.0 187.0,325.4 187.8,328.6 188.6,308.2 189.4,310.0 190.2,320.5 191.0,307.2 191.8,306.1 192.6,303.4 193.4,302.2 194.2,303.3 195.0,312.2 195.8,322.0 196.6,326.7 197.4,318.2 198.2,302.8 199.0,310.7 199.8,311.2 200.6,315.9 201.4,314.2 202.2,302.9 203.0,313.9 203.8,301.1 204.6,306.2 205.4,314.3 206.2,317.0 207.0,325.8 207.8,302.9 208.6,313.6 209.4,319.1 210.2,314.2 211.0,319.0 211.8,309.2 212.6,317.7 213.4,319.5 214.2,310.2 215.0,309.5 215.8,312.4 216.6,310.3 217.4,320.7 218.2,318.3 219.0,325.0 219.8,326.1 220.6,319.2 221.4,315.6 222.2,309.6 223.0,308.8 223.8,308.6 224.6,316.0 225.4,310.3 226.2,314.9 227.0,317.0 227.8,313.2 228.6,314.1 229.4,325.1 230.2,329.5 231.0,315.2 231.8,314.8 232.6,313.6 233.4,313.9 234.2,325.8 235.0,323.9 235.8,327.1 236.6,331.4 237.4,318.4 238.2,316.1 239.0,317.0 239.8,323.7 240.6,318.5 241.4,321.7 242.2,326.1 243.0,327.5 243.8,323.2 244.6,314.0 245.4,306.3 246.2,321.4 247.0,321.6 247.8,312.7 248.6,312.8 249.4,313.3 250.2,305.5 251.0,315.7 251.8,312.0 252.6,314.2 253.4,321.6 254.2,318.4 255.0,321.6 255.8,321.8 256.6,319.4 257.4,318.8 258.2,330.4 259.0,320.7 259.8,329.5 260.6,315.7 261.4,322.2 262.2,320.6 263.0,314.3 263.8,299.9 264.6,323.2 265.4,312.4 266.2,310.4 267.0,316.9 267.8,318.4 268.6,320.4 269.4,317.5 270.2,308.5 271.0,321.3 271.8,313.6 272.6,318.6 273.4,322.4 274.2,327.6 275.0,320.0 275.8,317.2 276.6,316.8 277.4,306.2 278.2,310.2 279.0,309.7 279.8,308.7 280.6,316.9 281.4,316.3 282.2,328.5 283.0,331.5 283.8,310.5 284.6,317.2 285.4,311.9 286.2,320.5 287.0,320.5 287.8,325.5 288.6,323.0 289.4,325.1 290.2,318.9 291.0,302.7 291.8,306.4 292.6,309.7 293.4,313.0 294.2,310.6 295.0,327.1 295.8,320.3 296.6,327.8 297.4,319.4 298.2,329.8 299.0,314.4 299.8,321.5 300.6,311.0 301.4,319.4 302.2,329.3 303.0,311.4 303.8,310.9 304.6,318.0 305.4,317.4 306.2,309.4 307.0,323.5 307.8,320.5 308.6,327.6 309.4,323.4 310.2,312.6 311.0,313.7 311.8,326.1 312.6,311.8 313.4,313.5 314.2,320.9 315.0,325.8 315.8,326.0 316.6,311.1 317.4,329.7 318.2,320.7 319.0,319.1 319.8,318.5 320.6,316.8 321.4,311.5 322.2,314.0 323.0,325.5 323.8,311.4 324.6,300.2 325.4,316.1 326.2,319.6 327.0,323.1 327.8,330.6 328.6,316.9 329.4,318.6 330.2,321.2 331.0,326.7 331.8,327.0 332.6,314.9 333.4,307.8 334.2,312.8 335.0,305.5 335.8,321.0 336.6,315.8 337.4,314.5 338.2,310.6 339.0,325.1 339.8,321.3 340.6,315.6 341.4,320.5 342.2,317.4 343.0,320.9 343.8,326.6 344.6,318.0 345.4,320.4 346.2,320.9 347.0,325.3 347.8,323.0 348.6,318.7 349.4,312.9 350.2,317.3 351.0,309.8 351.8,318.6 352.6,317.3 353.4,320.1 354.2,313.9 355.0,310.2 355.8,308.3 356.6,320.9 357.4,316.0 358.2,314.4 359.0,303.7 359.8,311.8 360.6,298.0 361.4,317.4 362.2,314.6 363.0,315.4 363.8,306.2 364.6,305.5 365.4,316.4 366.2,314.3 367.0,317.8 367.8,324.3 368.6,322.2 369.4,304.9 370.2,305.7 371.0,304.9 371.8,306.1 372.6,298.8 373.4,298.0 374.2,304.6 375.0,307.9 375.8,316.1 376.6,313.1 377.4,323.5 378.2,305.5 379.0,302.9 379.8,312.7 380.6,312.2 381.4,307.4 382.2,317.4 383.0,322.4 383.8,325.4 384.6,315.1"/>
<polyline fill="none" stroke="#7bbb66" stroke-width="0.8" points="27.0,326.8 29.0,326.9 31.0,326.8 33.0,327.1 35.0,326.7 37.0,326.9 39.0,326.2 41.0,327.0 43.0,327.2 45.0,326.8 47.0,327.1 49.0,326.4 51.0,326.7 53.0,326.4 55.0,326.9 57.0,326.9 59.0,326.5 61.0,326.6 63.0,326.7 65.0,327.4 67.0,326.8 69.0,326.8 71.0,326.9 73.0,326.9 75.0,326.7 77.0,326.5 79.0,326.6 81.0,327.2 83.0,326.9 85.0,326.7 87.0,326.5 89.0,326.8 91.0,326.8 93.0,326.6 95.0,327.0 97.0,326.7 99.0,326.8 101.0,327.0 103.0,326.9 105.0,327.1 107.0,326.7 109.0,326.7 111.0,326.9 113.0,326.9 115.0,327.1 117.0,326.9 119.0,326.8 121.0,326.9 123.0,327.0 125.0,326.5 127.0,326.8 129.0,326.7 131.0,327.1 133.0,326.7 135.0,327.1 137.0,326.5 139.0,326.8 141.0,327.1 143.0,326.7 145.0,327.1 147.0,326.3 149.0,326.8 151.0,326.8 153.0,326.8 155.0,326.4 157.0,327.0 159.0,326.2 161.0,327.0 163.0,326.9 165.0,327.0 167.0,326.7 169.0,326.5 171.0,326.7 173.0,326.7 175.0,326.9 177.0,326.7 179.0,326.9 181.0,326.9 183.0,327.2 185.0,326.3 187.0,326.7 189.0,327.0 191.0,327.0 193.0,326.7 195.0,326.7 197.0,326.8 199.0,326.8 201.0,326.7 203.0,326.6 205.0,326.5 207.0,326.7 209.0,327.2 211.0,326.6 213.0,327.0 215.0,327.3 217.0,326.9 219.0,327.4 221.0,326.8 223.0,327.2 225.0,326.8 227.0,326.5 229.0,326.9 231.0,327.3 233.0,326.7 235.0,326.9 237.0,326.6 239.0,326.6 241.0,326.9 243.0,326.8 245.0,327.0 247.0,327.1 249.0,326.5 251.0,326.6 253.0,326.8 255.0,327.4 257.0,326.7 259.0,326.7 261.0,326.9 263.0,327.3 265.0,326.7 267.0,326.7 269.0,326.8 271.0,327.0 273.0,327.4 275.0,326.5 277.0,326.4 279.0,326.9 281.0,327.0 283.0,326.3 285.0,326.7 287.0,327.1 289.0,326.7 291.0,326.9 293.0,326.9 295.0,327.0 297.0,326.9 299.0,326.9 301.0,327.1 303.0,326.7 305.0,326.9 307.0,327.1 309.0,326.7 311.0,326.7 313.0,326.6 315.0,326.6 317.0,327.3 319.0,326.9 321.0,327.3 323.0,327.0 325.0,326.8 327.0,326.8 329.0,326.9 331.0,326.8 333.0,327.1 335.0,326.6 337.0,326.9 339.0,326.9 341.0,326.8 343.0,326.8 345.0,327.0 347.0,327.0 349.0,326.8 351.0,326.8 353.0,326.7 355.0,327.0 357.0,326.8 359.0,326.4 361.0,326.7 363.0,327.0 365.0,326.9 367.0,326.6 369.0,327.0 371.0,327.0 373.0,327.0 375.0,327.2 377.0,326.7 379.0,327.0 381.0,326.8 383.0,327.1"/>
<polyline fill="none" stroke="#ffbe7d" stroke-width="0.8" stroke-linejoin="miter" points="27.6,371.3 28.3,389.7 29.0,379.9 29.7,383.5 30.4,388.9 31.1,385.9 31.8,387.3 32.5,389.9 33.2,382.6 33.9,388.1 34.6,385.5 35.3,382.1 36.0,377.7 36.7,386.6 37.4,387.3 38.1,390.0 38.8,367.0 39.5,366.5 40.2,389.1 40.9,386.5 41.6,389.2 42.3,382.6 43.0,388.9 43.7,383.1 44.4,387.2 45.1,383.5 45.8,387.9 46.5,374.1 47.2,368.3 47.9,387.5 48.6,387.4 49.3,388.3 50.0,384.6 50.7,389.1 51.4,389.2 52.1,347.6 52.8,388.9 53.5,381.9 54.2,389.6 54.9,385.6 55.6,389.5 56.3,387.8 57.0,388.0 57.7,385.3 58.4,390.0 59.1,364.4 59.8,382.8 60.5,382.8 61.2,382.1 61.9,385.6 62.6,382.8 63.3,387.1 64.0,388.1 64.7,381.4 65.4,387.4 66.1,389.3 66.8,354.7 67.5,389.3 68.2,382.3 68.9,388.8 69.6,379.6 70.3,384.8 71.0,374.5 71.7,385.0 72.4,380.0 73.1,386.3 73.8,377.9 74.5,387.1 75.2,375.4 75.9,384.2 76.6,375.8 77.3,389.8 78.0,387.4 78.7,376.8 79.4,388.2 80.1,385.5 80.8,386.8 81.5,389.9 82.2,389.8 82.9,386.0 83.6,387.2 84.3,376.9 85.0,387.6 85.7,389.0 86.4,389.2 87.1,386.7 87.8,364.1 88.5,375.8 89.2,385.2 89.9,385.4 90.6,383.9 91.3,381.3 92.0,389.6 92.7,372.0 93.4,376.5 94.1,385.9 94.8,387.3 95.5,385.0 96.2,385.3 96.9,387.4 97.6,389.1 98.3,381.2 99.0,374.8 99.7,382.7 100.4,387.6 101.1,386.0 101.8,388.5 102.5,370.4 103.2,387.9 103.9,386.9 104.6,382.4 105.3,380.3 106.0,385.6 106.7,388.9 107.4,386.1 108.1,377.3 108.8,387.5 109.5,386.0 110.2,387.6 110.9,386.4 111.6,386.8 112.3,384.9 113.0,376.1 113.7,376.6 114.4,388.5 115.1,387.8 115.8,386.6 116.5,373.9 117.2,371.1 117.9,379.1 118.6,388.0 119.3,387.9 120.0,353.3 120.7,362.8 121.4,377.8 122.1,388.1 122.8,381.7 123.5,387.0 124.2,384.2 124.9,384.9 125.6,372.8 126.3,386.1 127.0,378.1 127.7,386.7 128.4,381.7 129.1,372.5 129.8,376.9 130.5,385.1 131.2,355.5 131.9,373.9 132.6,370.1 133.3,381.5 134.0,385.6 134.7,388.6 135.4,351.7 136.1,388.8 136.8,364.3 137.5,364.7 138.2,361.4 138.9,375.5 139.6,379.5 140.3,385.2 141.0,353.4 141.7,381.5 142.4,383.0 143.1,388.6 143.8,388.7 144.5,378.9 145.2,388.5 145.9,377.9 146.6,384.3 147.3,388.6 148.0,381.7 148.7,374.2 149.4,343.6 150.1,387.1 150.8,385.0 151.5,383.3 152.2,383.2 152.9,387.3 153.6,385.9 154.3,389.0 155.0,381.3 155.7,338.0 156.4,388.6 157.1,376.8 157.8,382.2 158.5,385.9 159.2,385.8 159.9,345.5 160.6,388.8 161.3,380.8 162.0,382.0 162.7,360.1 163.4,365.7 164.1,389.7 164.8,367.4 165.5,385.9 166.2,384.5 166.9,388.7 167.6,362.6 168.3,387.3 169.0,378.1 169.7,388.5 170.4,387.8 171.1,384.7 171.8,384.7 172.5,389.5 173.2,338.0 173.9,371.0 174.6,374.5 175.3,361.5 176.0,384.8 176.7,378.7 177.4,371.3 178.1,377.1 178.8,368.1 179.5,374.7 180.2,376.7 180.9,365.5 181.6,374.1 182.3,385.9 183.0,383.0 183.7,389.0 184.4,384.6 185.1,379.9 185.8,387.6 186.5,381.5 187.2,386.0 187.9,387.4 188.6,385.6 189.3,381.2 190.0,384.0 190.7,384.3 191.4,375.7 192.1,380.2 192.8,381.6 193.5,388.8 194.2,389.8 194.9,385.6 195.6,388.8 196.3,380.1 197.0,372.0 197.7,377.7 198.4,384.6 199.1,373.4 199.8,378.6 200.5,383.3 201.2,381.6 201.9,388.2 202.6,389.8 203.3,367.7 204.0,360.0 204.7,383.8 205.4,382.5 206.1,376.5 206.8,389.1 207.5,379.1 208.2,376.5 208.9,387.7 209.6,383.0 210.3,376.4 211.0,365.5 211.7,385.6 212.4,388.6 213.1,379.4 213.8,382.3 214.5,384.5 215.2,386.0 215.9,389.8 216.6,370.0 217.3,386.2 218.0,389.6 218.7,389.2 219.4,369.4 220.1,389.7 220.8,379.0 221.5,379.8 222.2,390.0 222.9,382.3 223.6,387.3 224.3,387.5 225.0,375.9 225.7,389.5 226.4,358.0 227.1,367.9 227.8,389.4 228.5,383.4 229.2,387.9 229.9,388.2 230.6,387.2 231.3,365.6 232.0,386.3 232.7,381.5 233.4,373.1 234.1,373.7 234.8,384.9 235.5,388.0 236.2,383.4 236.9,389.4 237.6,387.3 238.3,387.7 239.0,370.4 239.7,384.8 240.4,386.8 241.1,387.9 241.8,385.3 242.5,385.3 243.2,377.9 243.9,385.7 244.6,367.4 245.3,389.7 246.0,384.3 246.7,386.7 247.4,387.8 248.1,386.0 248.8,354.7 249.5,387.0 250.2,373.3 250.9,385.5 251.6,387.1 252.3,389.6 253.0,389.5 253.7,378.4 254.4,389.2 255.1,388.0 255.8,387.3 256.5,389.6 257.2,388.7 257.9,388.5 258.6,386.8 259.3,389.2 260.0,384.6 260.7,386.4 261.4,383.3 262.1,388.7 262.8,388.4 263.5,386.5 264.2,387.1 264.9,387.8 265.6,389.1 266.3,386.0 267.0,387.3 267.7,387.3 268.4,366.0 269.1,389.7 269.8,370.7 270.5,371.8 271.2,387.5 271.9,389.6 272.6,388.5 273.3,389.5 274.0,368.0 274.7,387.8 275.4,388.9 276.1,389.4 276.8,379.6 277.5,385.1 278.2,376.0 278.9,387.0 279.6,386.6 280.3,385.4 281.0,383.9 281.7,385.5 282.4,388.2 283.1,384.9 283.8,371.6 284.5,384.8 285.2,386.3 285.9,367.8 286.6,362.9 287.3,389.9 288.0,390.0 288.7,387.3 289.4,373.0 290.1,387.2 290.8,373.7 291.5,376.3 292.2,387.1 292.9,384.4 293.6,386.8 294.3,375.9 295.0,381.9 295.7,381.9 296.4,374.9 297.1,383.1 297.8,381.4 298.5,375.5 299.2,387.5 299.9,388.7 300.6,372.3 301.3,379.0 302.0,376.0 302.7,386.2 303.4,384.2 304.1,378.4 304.8,379.5 305.5,379.2 306.2,384.6 306.9,382.2 307.6,389.0 308.3,384.6 309.0,389.9 309.7,385.6 310.4,389.2 311.1,374.5 311.8,376.8 312.5,383.5 313.2,371.1 313.9,389.0 314.6,381.4 315.3,386.1 316.0,381.1 316.7,379.5 317.4,370.7 318.1,368.8 318.8,384.5 319.5,372.6 320.2,386.1 320.9,381.0 321.6,384.8 322.3,376.3 323.0,388.8 323.7,380.3 324.4,377.1 325.1,381.4 325.8,388.8 326.5,383.1 327.2,378.3 327.9,388.7 328.6,365.7 329.3,387.6 330.0,388.8 330.7,383.5 331.4,389.8 332.1,384.2 332.8,386.5 333.5,371.3 334.2,387.9 334.9,385.9 335.6,389.9 336.3,386.6 337.0,383.9 337.7,380.1 338.4,387.6 339.1,382.2 339.8,386.9 340.5,388.4 341.2,389.1 341.9,389.9 342.6,381.7 343.3,386.6 344.0,388.1 344.7,389.5 345.4,383.2 346.1,379.1 346.8,387.9 347.5,387.0 348.2,380.1 348.9,389.0 349.6,388.5 350.3,388.4 351.0,387.2 351.7,388.5 352.4,382.0 353.1,385.4 353.8,376.5 354.5,389.7 355.2,383.3 355.9,385.9 356.6,388.7 357.3,386.8 358.0,389.4 358.7,388.8 359.4,386.4 360.1,387.7 360.8,387.2 361.5,387.7 362.2,388.4 362.9,388.2 363.6,386.7 364.3,377.8 365.0,389.3 365.7,367.8 366.4,389.0 367.1,388.0 367.8,389.0 368.5,380.8 369.2,386.8 369.9,388.9 370.6,385.3 371.3,387.6 372.0,387.9 372.7,388.4 373.4,388.4 374.1,386.0 374.8,389.4 375.5,389.6 376.2,387.1 376.9,388.9 377.6,389.3 378.3,389.4 379.0,389.8 379.7,388.6 380.4,387.1 381.1,370.6 381.8,389.0 382.5,389.8 383.2,389.3 383.9,389.6 384.6,388.6"/>
<polyline fill="none" stroke="#e15759" stroke-width="0.8" stroke-linejoin="miter" points="27.5,388.8 28.4,385.8 29.3,389.1 30.2,389.4 31.1,389.4 32.0,389.8 32.9,389.7 33.8,384.8 34.7,388.7 35.6,389.9 36.5,388.9 37.4,389.2 38.3,389.9 39.2,389.8 40.1,386.2 41.0,388.7 41.9,384.8 42.8,389.6 43.7,389.0 44.6,383.3 45.5,388.0 46.4,384.4 47.3,385.2 48.2,388.0 49.1,387.2 50.0,383.0 50.9,389.3 51.8,385.9 52.7,385.1 53.6,389.8 54.5,389.0 55.4,388.3 56.3,386.5 57.2,388.6 58.1,388.3 59.0,390.0 59.9,389.6 60.8,388.9 61.7,388.4 62.6,381.0 63.5,389.1 64.4,386.6 65.3,390.0 66.2,387.9 67.1,385.8 68.0,388.9 68.9,389.3 69.8,389.3 70.7,388.2 71.6,387.5 72.5,382.8 73.4,389.0 74.3,387.3 75.2,389.6 76.1,388.7 77.0,389.4 77.9,385.8 78.8,388.6 79.7,386.7 80.6,387.6 81.5,388.4 82.4,386.4 83.3,389.3 84.2,384.4 85.1,385.4 86.0,388.7 86.9,387.7 87.8,385.1 88.7,384.8 89.6,383.9 90.5,384.1 91.4,384.5 92.3,386.3 93.2,389.3 94.1,371.1 95.0,389.6 95.9,389.1 96.8,388.6 97.7,390.0 98.6,389.0 99.5,380.4 100.4,388.8 101.3,341.2 102.2,382.9 103.1,389.6 104.0,385.9 104.9,385.3 105.8,380.8 106.7,389.6 107.6,386.0 108.5,386.7 109.4,385.5 110.3,386.8 111.2,379.1 112.1,381.8 113.0,388.1 113.9,388.0 114.8,389.0 115.7,380.7 116.6,388.6 117.5,373.3 118.4,390.0 119.3,369.9 120.2,388.5 121.1,388.9 122.0,389.7 122.9,383.3 123.8,387.5 124.7,386.2 125.6,387.7 126.5,342.9 127.4,385.6 128.3,382.3 129.2,388.1 130.1,383.0 131.0,389.4 131.9,375.8 132.8,343.3 133.7,385.8 134.6,388.7 135.5,388.3 136.4,386.6 137.3,389.8 138.2,388.0 139.1,388.6 140.0,382.5 140.9,381.5 141.8,386.1 142.7,384.8 143.6,387.3 144.5,389.2 145.4,380.8 146.3,387.5 147.2,387.3 148.1,371.5 149.0,369.1 149.9,388.0 150.8,380.8 151.7,338.0 152.6,352.9 153.5,338.1 154.4,375.6 155.3,387.3 156.2,387.1 157.1,386.7 158.0,378.1 158.9,389.3 159.8,389.2 160.7,385.4 161.6,362.9 162.5,383.8 163.4,386.7 164.3,361.7 165.2,389.2 166.1,386.0 167.0,384.7 167.9,389.0 168.8,388.2 169.7,387.9 170.6,384.4 171.5,375.8 172.4,390.0 173.3,369.8 174.2,385.3 175.1,377.2 176.0,386.9 176.9,381.8 177.8,386.3 178.7,389.5 179.6,384.5 180.5,384.1 181.4,375.7 182.3,389.0 183.2,389.5 184.1,373.7 185.0,388.3 185.9,387.9 186.8,389.6 187.7,388.0 188.6,388.5 189.5,388.1 190.4,386.0 191.3,389.3 192.2,389.4 193.1,386.3 194.0,369.0 194.9,383.4 195.8,387.7 196.7,388.7 197.6,382.3 198.5,380.0 199.4,385.9 200.3,386.5 201.2,388.8 202.1,379.4 203.0,388.7 203.9,387.3 204.8,360.0 205.7,379.0 206.6,389.0 207.5,380.4 208.4,382.9 209.3,389.2 210.2,387.8 211.1,379.5 212.0,385.7 212.9,388.8 213.8,369.4 214.7,386.9 215.6,387.7 216.5,389.7 217.4,389.5 218.3,387.6 219.2,387.2 220.1,383.2 221.0,389.7 221.9,386.7 222.8,388.9 223.7,383.1 224.6,387.2 225.5,384.0 226.4,387.9 227.3,386.8 228.2,389.2 229.1,389.4 230.0,389.3 230.9,387.9 231.8,388.9 232.7,388.3 233.6,385.3 234.5,389.9 235.4,375.6 236.3,379.0 237.2,389.0 238.1,384.5 239.0,389.6 239.9,386.9 240.8,389.6 241.7,388.6 242.6,381.8 243.5,387.3 244.4,372.4 245.3,389.7 246.2,389.4 247.1,383.9 248.0,389.8 248.9,387.2 249.8,377.4 250.7,389.8 251.6,388.7 252.5,388.0 253.4,389.2 254.3,373.8 255.2,380.7 256.1,382.0 257.0,389.3 257.9,384.1 258.8,387.6 259.7,388.5 260.6,386.5 261.5,387.9 262.4,386.1 263.3,389.9 264.2,386.1 265.1,389.4 266.0,386.6 266.9,385.3 267.8,382.4 268.7,389.6 269.6,386.9 270.5,389.2 271.4,386.9 272.3,389.9 273.2,387.2 274.1,385.5 275.0,383.8 275.9,389.6 276.8,343.4 277.7,389.8 278.6,386.3 279.5,386.3 280.4,385.0 281.3,385.3 282.2,389.1 283.1,370.2 284.0,389.8 284.9,343.7 285.8,389.6 286.7,381.6 287.6,352.8 288.5,388.7 289.4,387.1 290.3,388.4 291.2,387.0 292.1,386.7 293.0,385.1 293.9,387.0 294.8,389.1 295.7,389.5 296.6,388.1 297.5,386.3 298.4,386.1 299.3,385.7 300.2,387.1 301.1,389.1 302.0,381.5 302.9,388.2 303.8,385.0 304.7,385.4 305.6,386.0 306.5,384.7 307.4,381.6 308.3,382.9 309.2,379.6 310.1,385.3 311.0,382.4 311.9,375.6 312.8,388.4 313.7,387.6 314.6,387.5 315.5,389.2 316.4,388.1 317.3,388.2 318.2,383.5 319.1,382.9 320.0,386.3 320.9,388.6 321.8,385.2 322.7,387.3 323.6,387.0 324.5,389.1 325.4,385.2 326.3,387.4 327.2,386.8 328.1,388.0 329.0,384.2 329.9,387.4 330.8,387.3 331.7,386.6 332.6,387.8 333.5,349.2 334.4,389.0 335.3,385.6 336.2,385.8 337.1,388.8 338.0,389.7 338.9,386.5 339.8,386.7 340.7,389.9 341.6,387.3 342.5,385.9 343.4,388.5 344.3,389.9 345.2,388.5 346.1,388.5 347.0,388.5 347.9,388.7 348.8,389.1 349.7,389.6 350.6,389.8 351.5,386.3 352.4,389.8 353.3,389.3 354.2,389.7 355.1,389.5 356.0,389.0 356.9,389.2 357.8,388.9 358.7,389.2 359.6,388.7 360.5,390.0 361.4,388.9 362.3,389.8 363.2,388.4 364.1,389.9 365.0,389.8 365.9,389.6 366.8,388.8 367.7,389.4 368.6,386.9 369.5,387.4 370.4,364.1 371.3,386.2 372.2,367.9 373.1,389.4 374.0,389.7 374.9,386.7 375.8,370.8 376.7,389.2 377.6,389.9 378.5,386.5 379.4,388.8 380.3,381.9 381.2,387.1 382.1,387.8 383.0,388.5 383.9,388.7 384.8,388.9"/>
<polyline fill="none" stroke="#f28e2b" stroke-width="0.8" stroke-linejoin="miter" points="27.7,388.8 28.8,389.6 29.9,389.5 31.0,386.4 32.1,389.2 33.2,387.9 34.3,389.0 35.4,390.0 36.5,389.8 37.6,383.0 38.7,388.1 39.8,389.4 40.9,389.9 42.0,389.6 43.1,389.5 44.2,389.3 45.3,385.2 46.4,389.8 47.5,388.5 48.6,389.2 49.7,389.3 50.8,387.8 51.9,390.0 53.0,389.2 54.1,389.0 55.2,389.5 56.3,389.9 57.4,388.8 58.5,389.7 59.6,381.5 60.7,389.6 61.8,388.1 62.9,388.6 64.0,387.9 65.1,389.2 66.2,386.4 67.3,387.8 68.4,388.2 69.5,388.3 70.6,389.9 71.7,387.9 72.8,386.1 73.9,387.3 75.0,389.9 76.1,389.2 77.2,389.6 78.3,387.3 79.4,385.2 80.5,387.5 81.6,389.7 82.7,388.4 83.8,389.0 84.9,387.1 86.0,387.0 87.1,387.0 88.2,389.8 89.3,386.4 90.4,389.9 91.5,389.3 92.6,383.7 93.7,389.2 94.8,388.8 95.9,385.8 97.0,389.9 98.1,389.3 99.2,388.8 100.3,387.9 101.4,388.6 102.5,388.6 103.6,376.8 104.7,382.6 105.8,383.7 106.9,388.8 108.0,388.4 109.1,389.0 110.2,387.9 111.3,388.5 112.4,387.4 113.5,383.7 114.6,384.0 115.7,388.6 116.8,389.4 117.9,389.2 119.0,389.6 120.1,385.7 121.2,386.4 122.3,388.1 123.4,387.1 124.5,389.8 125.6,389.8 126.7,389.2 127.8,389.7 128.9,386.1 130.0,384.9 131.1,389.3 132.2,388.0 133.3,383.6 134.4,368.7 135.5,387.3 136.6,387.1 137.7,386.8 138.8,388.1 139.9,385.3 141.0,381.9 142.1,388.7 143.2,383.5 144.3,382.1 145.4,387.6 146.5,380.8 147.6,383.4 148.7,388.6 149.8,388.4 150.9,386.5 152.0,388.6 153.1,388.1 154.2,389.4 155.3,382.7 156.4,388.9 157.5,389.9 158.6,385.7 159.7,389.1 160.8,366.9 161.9,389.7 163.0,382.0 164.1,389.4 165.2,385.5 166.3,381.8 167.4,382.7 168.5,386.6 169.6,384.4 170.7,389.3 171.8,383.4 172.9,389.1 174.0,389.5 175.1,390.0 176.2,384.8 177.3,376.4 178.4,386.9 179.5,388.7 180.6,380.5 181.7,379.9 182.8,387.8 183.9,389.6 185.0,389.5 186.1,386.0 187.2,386.1 188.3,389.3 189.4,387.5 190.5,383.1 191.6,383.4 192.7,379.0 193.8,386.8 194.9,386.5 196.0,389.8 197.1,379.6 198.2,382.4 199.3,387.4 200.4,387.9 201.5,382.8 202.6,379.1 203.7,389.9 204.8,387.1 205.9,383.7 207.0,381.3 208.1,388.8 209.2,382.0 210.3,385.3 211.4,389.0 212.5,389.8 213.6,387.6 214.7,386.1 215.8,384.3 216.9,389.3 218.0,383.9 219.1,388.9 220.2,386.2 221.3,386.6 222.4,387.4 223.5,389.1 224.6,381.0 225.7,387.5 226.8,389.7 227.9,370.2 229.0,389.1 230.1,388.6 231.2,388.8 232.3,389.8 233.4,390.0 234.5,385.0 235.6,387.9 236.7,389.1 237.8,383.8 238.9,386.6 240.0,382.2 241.1,388.3 242.2,389.8 243.3,388.2 244.4,388.1 245.5,389.0 246.6,389.3 247.7,389.5 248.8,381.3 249.9,388.0 251.0,389.4 252.1,389.4 253.2,388.7 254.3,389.9 255.4,389.1 256.5,385.8 257.6,390.0 258.7,389.0 259.8,389.6 260.9,389.4 262.0,387.3 263.1,389.5 264.2,388.8 265.3,386.7 266.4,388.9 267.5,389.6 268.6,387.1 269.7,386.8 270.8,389.0 271.9,390.0 273.0,389.2 274.1,389.9 275.2,388.9 276.3,389.6 277.4,383.9 278.5,385.6 279.6,384.9 280.7,388.9 281.8,385.9 282.9,387.0 284.0,389.6 285.1,388.8 286.2,389.5 287.3,387.7 288.4,389.8 289.5,389.6 290.6,384.0 291.7,386.9 292.8,388.3 293.9,387.9 295.0,383.1 296.1,388.7 297.2,382.7 298.3,384.2 299.4,386.8 300.5,386.3 301.6,387.6 302.7,389.3 303.8,385.7 304.9,389.6 306.0,387.4 307.1,388.4 308.2,387.8 309.3,381.4 310.4,388.3 311.5,386.6 312.6,390.0 313.7,388.8 314.8,389.6 315.9,389.0 317.0,386.9 318.1,388.5 319.2,384.3 320.3,387.1 321.4,388.3 322.5,387.0 323.6,385.1 324.7,384.5 325.8,389.4 326.9,387.0 328.0,388.3 329.1,389.8 330.2,387.4 331.3,385.8 332.4,389.5 333.5,389.1 334.6,389.4 335.7,388.7 336.8,388.6 337.9,388.5 339.0,387.9 340.1,374.0 341.2,389.4 342.3,382.2 343.4,385.7 344.5,388.3 345.6,387.7 346.7,389.7 347.8,388.0 348.9,378.7 350.0,389.0 351.1,388.4 352.2,389.7 353.3,388.9 354.4,388.3 355.5,389.7 356.6,389.1 357.7,389.2 358.8,389.1 359.9,389.6 361.0,389.6 362.1,389.8 363.2,389.6 364.3,389.9 365.4,389.1 366.5,389.9 367.6,388.6 368.7,386.7 369.8,383.8 370.9,389.8 372.0,389.4 373.1,387.9 374.2,388.4 375.3,382.9 376.4,389.5 377.5,382.9 378.6,389.8 379.7,388.3 380.8,383.4 381.9,383.8 383.0,389.2 384.1,385.5"/>
<polyline fill="none" stroke="#ff9d9a" stroke-width="0.8" stroke-linejoin="miter" points="27.3,389.1 28.3,381.1 29.3,389.9 30.3,389.0 31.3,389.9 32.3,388.4 33.3,390.0 34.3,388.3 35.3,388.4 36.3,387.6 37.3,386.7 38.3,388.0 39.3,389.9 40.3,388.4 41.3,389.7 42.3,389.4 43.3,389.9 44.3,387.2 45.3,389.1 46.3,388.1 47.3,387.8 48.3,388.4 49.3,388.1 50.3,389.1 51.3,381.6 52.3,388.5 53.3,384.3 54.3,389.8 55.3,389.5 56.3,386.7 57.3,382.7 58.3,389.6 59.3,368.8 60.3,389.4 61.3,390.0 62.3,389.9 63.3,389.1 64.3,386.2 65.3,388.9 66.3,389.4 67.3,380.8 68.3,386.4 69.3,387.1 70.3,389.5 71.3,389.3 72.3,386.9 73.3,389.2 74.3,388.1 75.3,383.9 76.3,387.6 77.3,389.8 78.3,380.9 79.3,389.6 80.3,388.6 81.3,390.0 82.3,369.8 83.3,381.3 84.3,384.9 85.3,385.2 86.3,384.3 87.3,388.3 88.3,388.6 89.3,386.0 90.3,386.8 91.3,379.5 92.3,389.8 93.3,389.2 94.3,388.4 95.3,389.2 96.3,384.2 97.3,387.1 98.3,388.8 99.3,389.6 100.3,379.3 101.3,383.9 102.3,389.8 103.3,388.7 104.3,386.4 105.3,388.8 106.3,389.7 107.3,389.2 108.3,380.0 109.3,388.5 110.3,388.7 111.3,382.3 112.3,388.6 113.3,389.1 114.3,389.3 115.3,388.6 116.3,389.0 117.3,387.6 118.3,389.3 119.3,388.9 120.3,383.3 121.3,389.7 122.3,379.8 123.3,384.7 124.3,386.2 125.3,385.7 126.3,386.7 127.3,377.7 128.3,389.4 129.3,373.8 130.3,382.6 131.3,390.0 132.3,375.1 133.3,385.5 134.3,383.8 135.3,389.7 136.3,384.4 137.3,389.3 138.3,388.1 139.3,389.3 140.3,385.8 141.3,386.8 142.3,380.0 143.3,385.9 144.3,384.8 145.3,388.8 146.3,379.6 147.3,387.3 148.3,372.0 149.3,387.5 150.3,385.9 151.3,377.5 152.3,386.5 153.3,389.1 154.3,383.2 155.3,388.6 156.3,374.9 157.3,384.4 158.3,383.6 159.3,387.6 160.3,382.4 161.3,389.2 162.3,380.6 163.3,389.2 164.3,385.9 165.3,389.2 166.3,388.9 167.3,385.0 168.3,388.1 169.3,383.2 170.3,389.0 171.3,388.7 172.3,389.4 173.3,370.1 174.3,387.4 175.3,381.6 176.3,380.3 177.3,388.9 178.3,380.9 179.3,385.8 180.3,389.3 181.3,388.5 182.3,388.7 183.3,388.7 184.3,383.4 185.3,381.6 186.3,387.6 187.3,389.9 188.3,386.1 189.3,387.7 190.3,388.0 191.3,386.3 192.3,387.0 193.3,389.9 194.3,386.1 195.3,383.1 196.3,385.4 197.3,385.7 198.3,388.7 199.3,383.9 200.3,387.4 201.3,389.1 202.3,384.6 203.3,382.0 204.3,385.3 205.3,388.7 206.3,377.3 207.3,389.5 208.3,386.4 209.3,381.7 210.3,389.3 211.3,388.7 212.3,378.1 213.3,385.3 214.3,390.0 215.3,386.0 216.3,389.8 217.3,387.6 218.3,383.3 219.3,385.5 220.3,389.5 221.3,389.7 222.3,381.9 223.3,389.9 224.3,385.7 225.3,389.1 226.3,388.4 227.3,389.8 228.3,377.6 229.3,380.7 230.3,389.7 231.3,379.3 232.3,388.8 233.3,386.1 234.3,385.7 235.3,387.7 236.3,388.2 237.3,385.5 238.3,388.8 239.3,378.1 240.3,380.0 241.3,378.6 242.3,386.3 243.3,388.6 244.3,384.2 245.3,384.9 246.3,387.7 247.3,389.3 248.3,388.1 249.3,389.3 250.3,386.9 251.3,390.0 252.3,387.5 253.3,387.3 254.3,387.9 255.3,386.1 256.3,389.1 257.3,383.6 258.3,388.2 259.3,387.0 260.3,363.7 261.3,389.4 262.3,389.4 263.3,382.2 264.3,383.5 265.3,389.6 266.3,388.6 267.3,385.1 268.3,381.9 269.3,389.7 270.3,389.4 271.3,387.6 272.3,389.3 273.3,388.6 274.3,389.9 275.3,389.5 276.3,388.3 277.3,389.6 278.3,386.7 279.3,387.6 280.3,389.3 281.3,386.5 282.3,388.8 283.3,378.4 284.3,389.7 285.3,388.0 286.3,389.5 287.3,388.1 288.3,380.2 289.3,389.7 290.3,388.0 291.3,385.3 292.3,388.4 293.3,382.1 294.3,387.9 295.3,387.1 296.3,385.2 297.3,386.8 298.3,384.2 299.3,378.3 300.3,382.6 301.3,387.4 302.3,383.5 303.3,387.4 304.3,385.6 305.3,387.4 306.3,386.4 307.3,388.7 308.3,389.3 309.3,389.9 310.3,389.2 311.3,389.5 312.3,387.0 313.3,390.0 314.3,388.8 315.3,383.3 316.3,383.6 317.3,388.9 318.3,387.8 319.3,389.6 320.3,389.6 321.3,389.9 322.3,388.5 323.3,385.0 324.3,381.0 325.3,385.9 326.3,385.6 327.3,381.8 328.3,386.5 329.3,388.9 330.3,386.8 331.3,388.5 332.3,381.3 333.3,386.0 334.3,389.1 335.3,381.7 336.3,388.6 337.3,389.1 338.3,377.5 339.3,387.2 340.3,388.5 341.3,385.5 342.3,384.8 343.3,389.1 344.3,388.5 345.3,383.6 346.3,389.7 347.3,386.4 348.3,389.4 349.3,388.9 350.3,388.6 351.3,389.4 352.3,385.2 353.3,387.4 354.3,389.7 355.3,389.4 356.3,374.9 357.3,388.9 358.3,388.1 359.3,384.2 360.3,388.5 361.3,387.7 362.3,388.4 363.3,389.0 364.3,388.9 365.3,388.4 366.3,386.5 367.3,387.1 368.3,386.9 369.3,389.7 370.3,389.0 371.3,386.1 372.3,389.8 373.3,389.7 374.3,389.2 375.3,389.7 376.3,389.7 377.3,388.8 378.3,388.1 379.3,389.5 380.3,389.9 381.3,389.9 382.3,389.8 383.3,384.9 384.3,388.3"/>
<polyline fill="none" stroke="#59a14f" stroke-width="0.8" stroke-linejoin="miter" points="28.1,387.3 29.4,387.5 30.7,385.6 32.0,388.3 33.3,387.9 34.6,389.4 35.9,389.7 37.2,386.8 38.5,385.5 39.8,390.0 41.1,389.9 42.4,389.1 43.7,389.6 45.0,388.1 46.3,388.9 47.6,386.0 48.9,389.5 50.2,388.9 51.5,389.8 52.8,388.8 54.1,387.8 55.4,389.1 56.7,386.5 58.0,389.0 59.3,385.4 60.6,390.0 61.9,389.7 63.2,389.2 64.5,389.9 65.8,356.0 67.1,387.0 68.4,390.0 69.7,389.4 71.0,389.9 72.3,389.2 73.6,389.4 74.9,384.3 76.2,389.7 77.5,387.8 78.8,386.4 80.1,389.4 81.4,389.4 82.7,387.6 84.0,387.0 85.3,389.5 86.6,389.9 87.9,389.8 89.2,387.9 90.5,389.0 91.8,389.8 93.1,372.7 94.4,388.8 95.7,386.2 97.0,387.4 98.3,384.3 99.6,388.0 100.9,389.5 102.2,389.6 103.5,388.6 104.8,389.0 106.1,389.8 107.4,389.5 108.7,389.9 110.0,389.2 111.3,388.5 112.6,387.7 113.9,389.9 115.2,388.6 116.5,387.8 117.8,389.5 119.1,385.2 120.4,384.9 121.7,387.4 123.0,385.5 124.3,389.5 125.6,388.6 126.9,387.2 128.2,387.4 129.5,388.2 130.8,388.6 132.1,389.8 133.4,386.5 134.7,389.3 136.0,387.7 137.3,385.6 138.6,389.8 139.9,389.3 141.2,385.0 142.5,388.1 143.8,386.3 145.1,387.9 146.4,388.4 147.7,387.1 149.0,387.7 150.3,387.5 151.6,388.8 152.9,388.2 154.2,386.9 155.5,389.4 156.8,387.8 158.1,388.7 159.4,387.6 160.7,389.7 162.0,389.9 163.3,386.7 164.6,389.2 165.9,389.6 167.2,389.5 168.5,388.0 169.8,389.7 171.1,389.1 172.4,390.0 173.7,389.9 175.0,389.4 176.3,387.1 177.6,387.9 178.9,387.8 180.2,388.9 181.5,388.9 182.8,387.0 184.1,389.8 185.4,383.5 186.7,389.6 188.0,385.8 189.3,386.3 190.6,388.6 191.9,383.9 193.2,389.7 194.5,383.1 195.8,389.3 197.1,375.9 198.4,389.1 199.7,389.2 201.0,382.0 202.3,387.5 203.6,389.8 204.9,385.8 206.2,389.7 207.5,389.2 208.8,388.6 210.1,388.0 211.4,387.8 212.7,387.0 214.0,389.3 215.3,389.1 216.6,386.8 217.9,389.7 219.2,382.7 220.5,390.0 221.8,383.2 223.1,389.3 224.4,386.6 225.7,389.1 227.0,389.6 228.3,389.6 229.6,388.0 230.9,388.7 232.2,388.1 233.5,388.6 234.8,387.1 236.1,389.2 237.4,388.5 238.7,388.8 240.0,387.3 241.3,389.8 242.6,389.6 243.9,389.4 245.2,389.7 246.5,389.9 247.8,388.0 249.1,387.6 250.4,388.0 251.7,389.5 253.0,389.8 254.3,389.9 255.6,383.2 256.9,388.8 258.2,388.8 259.5,388.6 260.8,388.6 262.1,388.7 263.4,389.2 264.7,385.4 266.0,388.8 267.3,388.8 268.6,389.9 269.9,389.9 271.2,389.6 272.5,389.9 273.8,389.3 275.1,389.6 276.4,389.7 277.7,389.7 279.0,385.8 280.3,387.7 281.6,389.0 282.9,387.6 284.2,384.4 285.5,388.8 286.8,388.4 288.1,386.3 289.4,389.6 290.7,388.2 292.0,386.1 293.3,386.7 294.6,389.8 295.9,389.9 297.2,389.8 298.5,389.8 299.8,389.5 301.1,381.1 302.4,389.8 303.7,387.6 305.0,387.3 306.3,388.6 307.6,388.3 308.9,384.9 310.2,389.6 311.5,360.8 312.8,388.4 314.1,388.5 315.4,389.4 316.7,386.7 318.0,388.6 319.3,387.6 320.6,387.4 321.9,389.6 323.2,389.6 324.5,389.7 325.8,389.4 327.1,389.5 328.4,389.9 329.7,389.9 331.0,389.2 332.3,388.8 333.6,387.4 334.9,388.0 336.2,389.1 337.5,385.8 338.8,389.1 340.1,389.8 341.4,387.9 342.7,388.6 344.0,389.8 345.3,389.8 346.6,389.7 347.9,384.9 349.2,389.7 350.5,389.5 351.8,389.8 353.1,389.7 354.4,387.7 355.7,388.7 357.0,389.1 358.3,388.3 359.6,389.9 360.9,387.1 362.2,389.0 363.5,370.7 364.8,390.0 366.1,389.5 367.4,389.6 368.7,389.7 370.0,389.8 371.3,389.2 372.6,389.7 373.9,389.7 375.2,389.4 376.5,390.0 377.8,389.5 379.1,389.7 380.4,389.4 381.7,389.6 383.0,389.2 384.3,389.9"/>
<polyline fill="none" stroke="#8cd17d" stroke-width="0.8" stroke-linejoin="miter" points="27.6,389.1 28.8,389.9 30.0,388.1 31.2,389.2 32.4,389.2 33.6,388.2 34.8,389.3 36.0,390.0 37.2,388.0 38.4,388.1 39.6,389.4 40.8,388.0 42.0,389.6 43.2,389.8 44.4,388.4 45.6,389.6 46.8,389.6 48.0,389.9 49.2,389.6 50.4,389.5 51.6,388.7 52.8,389.9 54.0,389.2 55.2,389.2 56.4,388.5 57.6,384.7 58.8,389.9 60.0,388.1 61.2,385.5 62.4,389.7 63.6,389.9 64.8,388.3 66.0,388.0 67.2,387.2 68.4,389.8 69.6,388.5 70.8,389.1 72.0,387.1 73.2,389.7 74.4,389.9 75.6,389.6 76.8,378.0 78.0,389.0 79.2,386.0 80.4,387.0 81.6,386.9 82.8,389.1 84.0,388.7 85.2,388.9 86.4,389.0 87.6,389.7 88.8,361.7 90.0,371.1 91.2,389.1 92.4,387.7 93.6,389.6 94.8,388.8 96.0,389.0 97.2,384.5 98.4,387.8 99.6,388.1 100.8,388.6 102.0,388.6 103.2,388.4 104.4,389.8 105.6,387.3 106.8,389.5 108.0,389.4 109.2,388.5 110.4,363.8 111.6,388.5 112.8,389.9 114.0,389.8 115.2,388.6 116.4,389.4 117.6,365.0 118.8,371.9 120.0,384.7 121.2,389.2 122.4,388.6 123.6,388.5 124.8,389.2 126.0,384.3 127.2,389.7 128.4,389.3 129.6,388.6 130.8,388.7 132.0,382.2 133.2,384.7 134.4,387.3 135.6,378.0 136.8,383.3 138.0,388.7 139.2,388.1 140.4,385.2 141.6,385.1 142.8,386.4 144.0,389.7 145.2,389.1 146.4,386.4 147.6,388.9 148.8,387.0 150.0,379.2 151.2,385.1 152.4,388.8 153.6,387.2 154.8,388.9 156.0,383.9 157.2,377.9 158.4,385.4 159.6,381.3 160.8,388.0 162.0,383.5 163.2,388.8 164.4,388.8 165.6,388.3 166.8,382.1 168.0,389.2 169.2,385.4 170.4,385.0 171.6,389.8 172.8,387.5 174.0,387.9 175.2,386.0 176.4,389.2 177.6,387.8 178.8,383.6 180.0,383.3 181.2,385.3 182.4,387.8 183.6,386.1 184.8,386.4 186.0,387.4 187.2,389.1 188.4,388.9 189.6,388.4 190.8,378.0 192.0,386.5 193.2,386.4 194.4,389.3 195.6,382.2 196.8,389.7 198.0,382.2 199.2,383.5 200.4,387.6 201.6,387.6 202.8,388.1 204.0,387.9 205.2,385.6 206.4,388.1 207.6,387.8 208.8,383.4 210.0,384.7 211.2,388.9 212.4,385.9 213.6,387.4 214.8,388.6 216.0,389.8 217.2,388.7 218.4,385.9 219.6,389.0 220.8,389.8 222.0,388.9 223.2,388.5 224.4,388.9 225.6,389.9 226.8,386.7 228.0,389.5 229.2,385.6 230.4,387.9 231.6,388.6 232.8,389.1 234.0,385.5 235.2,389.7 236.4,390.0 237.6,385.2 238.8,389.9 240.0,385.2 241.2,386.3 242.4,389.5 243.6,387.3 244.8,389.9 246.0,383.5 247.2,389.9 248.4,386.6 249.6,387.9 250.8,388.4 252.0,387.1 253.2,388.8 254.4,389.7 255.6,389.0 256.8,389.3 258.0,389.9 259.2,388.4 260.4,386.4 261.6,389.9 262.8,385.9 264.0,389.4 265.2,389.8 266.4,384.7 267.6,388.5 268.8,389.3 270.0,389.6 271.2,389.8 272.4,388.7 273.6,389.7 274.8,389.8 276.0,388.6 277.2,386.4 278.4,390.0 279.6,389.6 280.8,389.3 282.0,389.5 283.2,389.0 284.4,386.6 285.6,389.4 286.8,389.9 288.0,387.4 289.2,389.5 290.4,389.1 291.6,388.0 292.8,387.3 294.0,388.4 295.2,388.3 296.4,388.0 297.6,389.4 298.8,387.6 300.0,389.2 301.2,385.8 302.4,384.9 303.6,389.0 304.8,389.2 306.0,389.7 307.2,388.1 308.4,387.5 309.6,388.8 310.8,389.2 312.0,389.9 313.2,386.2 314.4,388.0 315.6,389.6 316.8,388.6 318.0,389.7 319.2,384.4 320.4,389.9 321.6,382.6 322.8,388.3 324.0,384.5 325.2,387.1 326.4,389.8 327.6,388.6 328.8,385.1 330.0,386.7 331.2,386.6 332.4,382.6 333.6,388.6 334.8,385.5 336.0,389.4 337.2,389.2 338.4,386.0 339.6,388.6 340.8,389.7 342.0,388.6 343.2,365.5 344.4,389.2 345.6,386.5 346.8,389.4 348.0,389.8 349.2,388.3 350.4,389.8 351.6,389.8 352.8,389.7 354.0,389.3 355.2,389.6 356.4,389.4 357.6,390.0 358.8,387.1 360.0,389.8 361.2,385.9 362.4,389.7 363.6,389.0 364.8,389.7 366.0,389.2 367.2,388.0 368.4,389.9 369.6,389.2 370.8,388.9 372.0,390.0 373.2,389.1 374.4,389.9 375.6,389.8 376.8,389.0 378.0,388.5 379.2,389.7 380.4,388.5 381.6,389.6 382.8,390.0 384.0,389.7"/>
<polyline fill="none" stroke="#f1ce63" stroke-width="0.8" stroke-linejoin="miter" points="27.7,389.9 28.7,389.1 29.7,384.9 30.7,387.8 31.7,387.2 32.7,387.1 33.7,389.1 34.7,388.3 35.7,389.8 36.7,386.6 37.7,384.1 38.7,387.9 39.7,389.2 40.7,386.5 41.7,389.1 42.7,389.0 43.7,389.3 44.7,389.0 45.7,389.7 46.7,385.0 47.7,385.5 48.7,388.7 49.7,389.9 50.7,389.6 51.7,389.2 52.7,389.5 53.7,389.5 54.7,389.1 55.7,372.0 56.7,387.4 57.7,389.2 58.7,385.6 59.7,388.8 60.7,389.4 61.7,387.5 62.7,381.3 63.7,385.6 64.7,389.9 65.7,389.4 66.7,388.8 67.7,384.9 68.7,390.0 69.7,387.0 70.7,389.5 71.7,388.7 72.7,388.4 73.7,386.9 74.7,385.3 75.7,388.0 76.7,388.3 77.7,388.2 78.7,389.1 79.7,388.9 80.7,388.0 81.7,389.1 82.7,384.6 83.7,387.3 84.7,388.8 85.7,389.4 86.7,387.1 87.7,383.1 88.7,389.4 89.7,389.4 90.7,388.2 91.7,385.8 92.7,371.7 93.7,388.2 94.7,387.6 95.7,385.1 96.7,382.7 97.7,389.9 98.7,386.8 99.7,387.6 100.7,385.4 101.7,383.4 102.7,386.6 103.7,382.6 104.7,388.1 105.7,387.4 106.7,387.4 107.7,387.7 108.7,388.5 109.7,386.5 110.7,383.4 111.7,387.6 112.7,384.4 113.7,388.8 114.7,385.8 115.7,388.5 116.7,388.2 117.7,377.8 118.7,389.6 119.7,384.8 120.7,383.5 121.7,387.1 122.7,384.5 123.7,389.2 124.7,384.0 125.7,386.8 126.7,384.1 127.7,385.2 128.7,387.0 129.7,386.4 130.7,389.2 131.7,377.1 132.7,386.4 133.7,377.5 134.7,389.9 135.7,389.7 136.7,389.0 137.7,382.0 138.7,384.9 139.7,387.0 140.7,389.0 141.7,387.0 142.7,389.6 143.7,386.0 144.7,388.8 145.7,384.0 146.7,386.4 147.7,387.7 148.7,388.0 149.7,388.9 150.7,389.5 151.7,387.5 152.7,387.8 153.7,383.4 154.7,389.2 155.7,381.8 156.7,372.1 157.7,388.3 158.7,376.9 159.7,378.3 160.7,385.4 161.7,385.3 162.7,378.1 163.7,389.9 164.7,378.4 165.7,386.0 166.7,378.9 167.7,387.6 168.7,385.5 169.7,388.6 170.7,389.7 171.7,389.6 172.7,385.1 173.7,387.1 174.7,388.5 175.7,387.6 176.7,383.7 177.7,382.6 178.7,383.6 179.7,389.0 180.7,389.8 181.7,389.7 182.7,384.9 183.7,383.4 184.7,387.1 185.7,384.5 186.7,379.4 187.7,383.1 188.7,389.5 189.7,385.6 190.7,385.5 191.7,382.4 192.7,382.4 193.7,386.0 194.7,386.1 195.7,389.1 196.7,384.1 197.7,361.5 198.7,388.0 199.7,387.6 200.7,387.9 201.7,389.5 202.7,382.0 203.7,378.9 204.7,388.6 205.7,389.6 206.7,388.4 207.7,390.0 208.7,388.1 209.7,387.8 210.7,382.3 211.7,389.0 212.7,388.6 213.7,381.5 214.7,383.4 215.7,389.5 216.7,383.0 217.7,385.0 218.7,382.8 219.7,387.2 220.7,374.0 221.7,389.3 222.7,386.9 223.7,390.0 224.7,383.5 225.7,389.2 226.7,384.1 227.7,388.0 228.7,389.9 229.7,387.0 230.7,389.9 231.7,386.9 232.7,388.2 233.7,387.8 234.7,389.3 235.7,389.2 236.7,388.6 237.7,385.3 238.7,387.7 239.7,385.8 240.7,388.7 241.7,388.0 242.7,389.4 243.7,389.0 244.7,388.8 245.7,389.2 246.7,389.2 247.7,386.2 248.7,388.0 249.7,386.7 250.7,387.6 251.7,389.8 252.7,388.9 253.7,387.5 254.7,387.5 255.7,388.6 256.7,389.8 257.7,388.2 258.7,382.7 259.7,387.5 260.7,389.5 261.7,389.6 262.7,384.0 263.7,388.0 264.7,388.4 265.7,389.3 266.7,382.6 267.7,389.5 268.7,387.4 269.7,377.4 270.7,387.4 271.7,387.9 272.7,385.5 273.7,388.9 274.7,389.2 275.7,388.3 276.7,386.7 277.7,389.0 278.7,389.6 279.7,388.5 280.7,389.2 281.7,389.8 282.7,387.2 283.7,388.6 284.7,387.0 285.7,387.2 286.7,385.2 287.7,387.7 288.7,386.0 289.7,388.4 290.7,388.6 291.7,389.9 292.7,389.9 293.7,389.7 294.7,387.5 295.7,389.7 296.7,381.0 297.7,380.5 298.7,384.2 299.7,388.6 300.7,387.1 301.7,388.9 302.7,383.6 303.7,383.9 304.7,386.4 305.7,388.1 306.7,388.6 307.7,387.3 308.7,378.2 309.7,388.4 310.7,389.1 311.7,389.8 312.7,388.6 313.7,385.8 314.7,387.2 315.7,389.2 316.7,387.1 317.7,386.4 318.7,389.3 319.7,388.9 320.7,385.4 321.7,388.6 322.7,388.1 323.7,388.1 324.7,384.5 325.7,389.3 326.7,390.0 327.7,385.0 328.7,389.2 329.7,385.5 330.7,387.5 331.7,387.7 332.7,385.2 333.7,388.2 334.7,389.6 335.7,389.3 336.7,388.6 337.7,387.2 338.7,389.5 339.7,388.5 340.7,389.8 341.7,388.2 342.7,388.8 343.7,389.6 344.7,389.9 345.7,388.5 346.7,388.8 347.7,387.5 348.7,389.0 349.7,389.8 350.7,388.8 351.7,388.3 352.7,389.9 353.7,389.8 354.7,387.7 355.7,388.3 356.7,387.9 357.7,389.8 358.7,386.1 359.7,388.9 360.7,389.9 361.7,389.7 362.7,388.8 363.7,388.9 364.7,389.9 365.7,387.2 366.7,389.5 367.7,389.7 368.7,387.9 369.7,389.1 370.7,387.4 371.7,389.0 372.7,389.1 373.7,389.6 374.7,389.4 375.7,389.6 376.7,388.1 377.7,388.2 378.7,389.5 379.7,387.2 380.7,389.7 381.7,389.4 382.7,389.2 383.7,389.4 384.7,388.1"/>
<polyline fill="none" stroke="#4e79a7" stroke-width="0.8" stroke-linejoin="miter" points="27.9,388.8 29.3,389.1 30.7,389.5 32.1,387.7 33.5,387.2 34.9,388.1 36.3,389.7 37.7,387.2 39.1,388.6 40.5,389.5 41.9,389.3 43.3,389.3 44.7,389.1 46.1,389.4 47.5,389.3 48.9,389.5 50.3,389.3 51.7,388.2 53.1,390.0 54.5,382.3 55.9,389.2 57.3,389.6 58.7,389.7 60.1,386.8 61.5,387.1 62.9,389.6 64.3,389.6 65.7,389.8 67.1,389.2 68.5,387.2 69.9,388.7 71.3,389.8 72.7,388.1 74.1,388.6 75.5,389.9 76.9,384.2 78.3,389.4 79.7,388.7 81.1,389.8 82.5,382.3 83.9,389.8 85.3,390.0 86.7,389.7 88.1,388.9 89.5,388.8 90.9,389.0 92.3,387.6 93.7,386.9 95.1,389.4 96.5,389.8 97.9,387.2 99.3,388.0 100.7,388.4 102.1,388.8 103.5,388.6 104.9,389.4 106.3,388.5 107.7,389.3 109.1,389.7 110.5,385.9 111.9,389.8 113.3,388.7 114.7,389.2 116.1,390.0 117.5,389.8 118.9,389.0 120.3,389.4 121.7,388.5 123.1,387.4 124.5,386.9 125.9,374.0 127.3,390.0 128.7,389.8 130.1,386.6 131.5,387.7 132.9,388.0 134.3,385.8 135.7,386.7 137.1,389.9 138.5,387.4 139.9,388.8 141.3,389.0 142.7,389.9 144.1,388.2 145.5,387.3 146.9,381.6 148.3,388.1 149.7,375.7 151.1,389.5 152.5,389.8 153.9,388.5 155.3,389.6 156.7,387.7 158.1,387.5 159.5,388.3 160.9,389.1 162.3,386.7 163.7,389.3 165.1,382.8 166.5,386.7 167.9,388.0 169.3,389.9 170.7,389.8 172.1,387.3 173.5,388.8 174.9,388.8 176.3,382.6 177.7,387.0 179.1,389.5 180.5,386.9 181.9,385.3 183.3,389.2 184.7,385.4 186.1,388.2 187.5,387.5 188.9,389.0 190.3,385.5 191.7,387.4 193.1,388.4 194.5,388.1 195.9,382.8 197.3,388.7 198.7,390.0 200.1,390.0 201.5,385.6 202.9,387.5 204.3,389.9 205.7,382.3 207.1,385.6 208.5,389.9 209.9,385.6 211.3,389.2 212.7,389.9 214.1,381.9 215.5,382.4 216.9,379.8 218.3,389.2 219.7,387.9 221.1,389.0 222.5,385.8 223.9,389.2 225.3,386.3 226.7,388.6 228.1,387.8 229.5,389.6 230.9,389.8 232.3,386.9 233.7,390.0 235.1,386.8 236.5,388.8 237.9,388.1 239.3,388.7 240.7,389.1 242.1,390.0 243.5,388.8 244.9,389.0 246.3,387.4 247.7,388.9 249.1,389.4 250.5,388.7 251.9,387.1 253.3,389.7 254.7,386.8 256.1,389.1 257.5,389.7 258.9,388.5 260.3,389.6 261.7,389.7 263.1,389.1 264.5,389.1 265.9,390.0 267.3,389.3 268.7,389.3 270.1,389.5 271.5,389.8 272.9,389.5 274.3,384.6 275.7,389.4 277.1,389.1 278.5,387.3 279.9,389.0 281.3,389.3 282.7,388.5 284.1,388.6 285.5,390.0 286.9,389.9 288.3,388.7 289.7,385.4 291.1,389.9 292.5,378.8 293.9,388.6 295.3,387.8 296.7,389.7 298.1,379.7 299.5,385.5 300.9,389.2 302.3,388.2 303.7,389.8 305.1,388.8 306.5,389.6 307.9,389.0 309.3,388.4 310.7,389.4 312.1,383.1 313.5,389.6 314.9,388.5 316.3,389.4 317.7,389.7 319.1,389.5 320.5,389.2 321.9,387.9 323.3,387.9 324.7,388.8 326.1,387.9 327.5,389.5 328.9,389.4 330.3,389.4 331.7,389.2 333.1,361.2 334.5,389.8 335.9,390.0 337.3,389.3 338.7,389.4 340.1,390.0 341.5,388.3 342.9,389.4 344.3,386.6 345.7,389.0 347.1,389.8 348.5,389.9 349.9,390.0 351.3,389.7 352.7,389.5 354.1,389.5 355.5,389.9 356.9,388.4 358.3,389.3 359.7,389.2 361.1,389.4 362.5,390.0 363.9,389.9 365.3,389.8 366.7,389.7 368.1,389.0 369.5,389.9 370.9,389.9 372.3,389.5 373.7,389.7 375.1,389.9 376.5,389.3 377.9,388.8 379.3,389.8 380.7,389.2 382.1,389.9 383.5,389.6 384.9,388.9"/>
<polyline fill="none" stroke="#a0cbe8" stroke-width="0.8" stroke-linejoin="miter" points="28.1,386.0 29.3,388.0 30.5,390.0 31.7,389.5 32.9,390.0 34.1,382.9 35.3,369.9 36.5,389.8 37.7,388.1 38.9,389.6 40.1,389.4 41.3,385.5 42.5,388.6 43.7,389.3 44.9,386.7 46.1,389.6 47.3,389.2 48.5,384.3 49.7,389.4 50.9,385.6 52.1,388.7 53.3,388.9 54.5,383.9 55.7,385.5 56.9,387.8 58.1,389.0 59.3,387.8 60.5,389.3 61.7,389.7 62.9,388.8 64.1,384.1 65.3,388.9 66.5,388.4 67.7,389.6 68.9,387.6 70.1,388.1 71.3,389.5 72.5,389.3 73.7,388.5 74.9,390.0 76.1,389.2 77.3,386.9 78.5,387.3 79.7,388.7 80.9,387.4 82.1,389.3 83.3,389.8 84.5,389.5 85.7,387.9 86.9,389.0 88.1,383.4 89.3,389.5 90.5,389.1 91.7,385.7 92.9,388.8 94.1,386.7 95.3,387.8 96.5,388.3 97.7,389.3 98.9,386.3 100.1,389.2 101.3,387.2 102.5,388.4 103.7,390.0 104.9,387.4 106.1,387.9 107.3,389.8 108.5,388.3 109.7,388.4 110.9,389.2 112.1,389.2 113.3,386.9 114.5,388.1 115.7,385.9 116.9,388.9 118.1,387.0 119.3,388.9 120.5,386.5 121.7,389.8 122.9,385.1 124.1,382.8 125.3,384.8 126.5,387.2 127.7,388.4 128.9,382.2 130.1,383.9 131.3,375.5 132.5,386.3 133.7,387.0 134.9,388.0 136.1,381.5 137.3,389.5 138.5,384.4 139.7,381.8 140.9,388.7 142.1,386.8 143.3,383.0 144.5,382.8 145.7,388.9 146.9,386.7 148.1,389.1 149.3,389.7 150.5,381.6 151.7,389.5 152.9,389.5 154.1,376.2 155.3,374.2 156.5,383.9 157.7,388.3 158.9,387.8 160.1,383.0 161.3,383.1 162.5,387.6 163.7,386.4 164.9,387.0 166.1,388.4 167.3,388.0 168.5,383.9 169.7,387.4 170.9,384.8 172.1,388.2 173.3,387.3 174.5,373.8 175.7,385.5 176.9,386.6 178.1,385.6 179.3,379.3 180.5,389.4 181.7,387.3 182.9,388.3 184.1,388.3 185.3,387.0 186.5,388.6 187.7,389.1 188.9,386.4 190.1,388.9 191.3,386.4 192.5,389.8 193.7,376.2 194.9,386.1 196.1,382.9 197.3,382.2 198.5,390.0 199.7,388.8 200.9,389.7 202.1,388.5 203.3,389.8 204.5,389.2 205.7,386.5 206.9,389.4 208.1,387.2 209.3,388.7 210.5,387.3 211.7,384.3 212.9,380.0 214.1,388.6 215.3,389.4 216.5,389.5 217.7,389.6 218.9,389.3 220.1,388.2 221.3,383.3 222.5,383.7 223.7,388.9 224.9,387.1 226.1,389.7 227.3,389.2 228.5,386.0 229.7,388.9 230.9,383.3 232.1,389.0 233.3,388.4 234.5,388.3 235.7,389.5 236.9,388.1 238.1,387.2 239.3,387.5 240.5,389.8 241.7,389.7 242.9,389.5 244.1,388.7 245.3,389.8 246.5,378.6 247.7,388.2 248.9,386.8 250.1,389.8 251.3,388.2 252.5,387.2 253.7,389.5 254.9,387.8 256.1,388.2 257.3,388.7 258.5,381.8 259.7,389.6 260.9,387.9 262.1,389.9 263.3,389.2 264.5,389.4 265.7,388.1 266.9,388.9 268.1,389.9 269.3,389.3 270.5,384.9 271.7,389.7 272.9,386.7 274.1,388.7 275.3,389.7 276.5,389.9 277.7,389.5 278.9,388.8 280.1,386.6 281.3,383.3 282.5,389.2 283.7,388.4 284.9,382.6 286.1,388.1 287.3,389.2 288.5,388.9 289.7,387.6 290.9,387.3 292.1,389.8 293.3,389.1 294.5,388.6 295.7,388.7 296.9,387.8 298.1,384.2 299.3,389.6 300.5,388.8 301.7,386.5 302.9,389.5 304.1,388.9 305.3,382.3 306.5,389.1 307.7,385.5 308.9,384.7 310.1,379.2 311.3,386.3 312.5,373.8 313.7,389.3 314.9,383.9 316.1,386.5 317.3,388.4 318.5,386.4 319.7,386.5 320.9,389.8 322.1,386.9 323.3,389.5 324.5,388.4 325.7,386.0 326.9,387.6 328.1,384.3 329.3,387.3 330.5,388.9 331.7,389.7 332.9,389.8 334.1,387.5 335.3,389.5 336.5,389.4 337.7,387.7 338.9,389.4 340.1,388.3 341.3,389.3 342.5,388.4 343.7,388.6 344.9,387.0 346.1,389.1 347.3,389.2 348.5,389.7 349.7,389.8 350.9,389.7 352.1,389.8 353.3,389.8 354.5,389.4 355.7,389.6 356.9,390.0 358.1,389.4 359.3,389.2 360.5,389.2 361.7,389.9 362.9,389.8 364.1,387.9 365.3,390.0 366.5,389.8 367.7,389.1 368.9,389.0 370.1,388.3 371.3,389.6 372.5,389.3 373.7,389.8 374.9,389.7 376.1,388.5 377.3,389.4 378.5,388.8 379.7,389.9 380.9,389.4 382.1,385.7 383.3,389.5 384.5,388.9"/>
<polyline fill="none" stroke="#499894" stroke-width="0.8" stroke-linejoin="miter" points="27.7,389.3 29.1,389.6 30.5,389.7 31.9,388.0 33.3,386.4 34.7,389.2 36.1,388.1 37.5,389.6 38.9,388.6 40.3,389.5 41.7,389.1 43.1,388.2 44.5,388.1 45.9,389.8 47.3,388.4 48.7,387.5 50.1,389.3 51.5,389.8 52.9,389.8 54.3,388.8 55.7,389.4 57.1,389.4 58.5,389.7 59.9,389.7 61.3,388.9 62.7,390.0 64.1,389.7 65.5,389.1 66.9,389.7 68.3,389.3 69.7,389.3 71.1,390.0 72.5,388.9 73.9,389.7 75.3,388.5 76.7,389.6 78.1,388.0 79.5,388.7 80.9,389.6 82.3,389.5 83.7,388.5 85.1,389.1 86.5,390.0 87.9,386.5 89.3,386.5 90.7,389.4 92.1,386.0 93.5,388.2 94.9,389.3 96.3,389.7 97.7,383.5 99.1,389.7 100.5,388.8 101.9,389.4 103.3,389.7 104.7,384.9 106.1,386.3 107.5,389.9 108.9,386.2 110.3,388.1 111.7,388.2 113.1,388.1 114.5,389.3 115.9,387.4 117.3,388.1 118.7,389.6 120.1,387.8 121.5,388.0 122.9,389.2 124.3,387.6 125.7,389.6 127.1,389.0 128.5,386.1 129.9,387.8 131.3,387.8 132.7,388.6 134.1,388.0 135.5,383.7 136.9,387.9 138.3,388.0 139.7,389.6 141.1,389.9 142.5,386.8 143.9,388.4 145.3,389.9 146.7,387.9 148.1,385.0 149.5,389.9 150.9,384.1 152.3,387.7 153.7,389.2 155.1,389.8 156.5,387.7 157.9,387.2 159.3,388.5 160.7,389.6 162.1,389.7 163.5,386.9 164.9,387.4 166.3,389.6 167.7,388.6 169.1,389.7 170.5,389.0 171.9,389.4 173.3,390.0 174.7,381.7 176.1,389.3 177.5,369.9 178.9,387.4 180.3,389.1 181.7,388.7 183.1,390.0 184.5,389.5 185.9,387.0 187.3,389.1 188.7,389.3 190.1,385.4 191.5,387.6 192.9,382.9 194.3,389.6 195.7,389.8 197.1,388.7 198.5,388.9 199.9,387.1 201.3,389.3 202.7,371.3 204.1,389.4 205.5,389.3 206.9,387.4 208.3,389.3 209.7,389.5 211.1,388.2 212.5,388.7 213.9,389.8 215.3,385.9 216.7,389.5 218.1,387.5 219.5,389.0 220.9,388.4 222.3,389.3 223.7,385.8 225.1,389.4 226.5,387.8 227.9,389.9 229.3,387.3 230.7,387.0 232.1,388.9 233.5,385.2 234.9,389.4 236.3,389.7 237.7,388.9 239.1,389.8 240.5,388.8 241.9,389.8 243.3,389.7 244.7,387.4 246.1,389.5 247.5,388.0 248.9,389.6 250.3,390.0 251.7,389.3 253.1,388.9 254.5,389.9 255.9,389.8 257.3,390.0 258.7,389.9 260.1,388.9 261.5,389.9 262.9,388.3 264.3,390.0 265.7,389.3 267.1,389.9 268.5,389.4 269.9,389.9 271.3,388.1 272.7,389.0 274.1,388.7 275.5,389.7 276.9,389.8 278.3,387.6 279.7,390.0 281.1,388.1 282.5,389.3 283.9,386.7 285.3,389.9 286.7,388.5 288.1,389.6 289.5,389.7 290.9,389.8 292.3,388.6 293.7,389.6 295.1,388.7 296.5,388.1 297.9,389.4 299.3,389.2 300.7,389.9 302.1,385.7 303.5,386.9 304.9,389.6 306.3,386.2 307.7,387.8 309.1,388.8 310.5,389.7 311.9,389.5 313.3,389.4 314.7,388.5 316.1,389.4 317.5,389.6 318.9,389.2 320.3,386.2 321.7,389.8 323.1,389.3 324.5,389.1 325.9,389.3 327.3,389.3 328.7,387.6 330.1,388.8 331.5,388.1 332.9,390.0 334.3,388.3 335.7,385.9 337.1,388.4 338.5,389.5 339.9,388.6 341.3,389.5 342.7,388.6 344.1,387.8 345.5,389.4 346.9,389.3 348.3,390.0 349.7,389.6 351.1,388.2 352.5,389.5 353.9,389.9 355.3,389.1 356.7,389.9 358.1,388.4 359.5,389.7 360.9,388.3 362.3,389.3 363.7,389.9 365.1,389.9 366.5,389.8 367.9,389.7 369.3,388.9 370.7,389.9 372.1,389.6 373.5,389.4 374.9,389.6 376.3,389.0 377.7,389.1 379.1,389.3 380.5,389.9 381.9,389.7 383.3,389.8 384.7,390.0"/>
<polyline fill="none" stroke="#b07aa1" stroke-width="0.8" stroke-linejoin="miter" points="27.7,389.2 29.2,389.8 30.7,389.6 32.2,389.8 33.7,388.5 35.2,389.8 36.7,389.9 38.2,389.7 39.7,389.7 41.2,389.8 42.7,389.5 44.2,389.7 45.7,388.6 47.2,390.0 48.7,389.7 50.2,388.7 51.7,389.9 53.2,388.2 54.7,389.7 56.2,389.5 57.7,389.8 59.2,389.1 60.7,388.3 62.2,389.3 63.7,388.8 65.2,389.6 66.7,389.8 68.2,389.4 69.7,386.7 71.2,388.7 72.7,389.5 74.2,389.1 75.7,389.8 77.2,387.9 78.7,389.4 80.2,390.0 81.7,389.4 83.2,389.7 84.7,388.6 86.2,389.7 87.7,389.6 89.2,388.4 90.7,389.5 92.2,382.4 93.7,389.7 95.2,388.7 96.7,388.7 98.2,389.9 99.7,389.5 101.2,387.5 102.7,389.5 104.2,389.2 105.7,388.2 107.2,390.0 108.7,389.4 110.2,385.3 111.7,387.7 113.2,389.9 114.7,389.8 116.2,389.5 117.7,386.8 119.2,389.6 120.7,389.8 122.2,387.7 123.7,385.5 125.2,387.0 126.7,388.2 128.2,389.9 129.7,389.4 131.2,389.2 132.7,389.2 134.2,389.5 135.7,385.5 137.2,389.7 138.7,388.3 140.2,387.5 141.7,387.6 143.2,389.6 144.7,387.9 146.2,387.8 147.7,387.8 149.2,389.7 150.7,388.8 152.2,389.1 153.7,389.8 155.2,389.8 156.7,386.4 158.2,387.9 159.7,389.8 161.2,389.0 162.7,388.9 164.2,388.6 165.7,388.4 167.2,389.7 168.7,389.1 170.2,388.7 171.7,387.1 173.2,389.3 174.7,388.9 176.2,389.2 177.7,389.3 179.2,388.5 180.7,388.9 182.2,386.7 183.7,386.5 185.2,389.4 186.7,387.7 188.2,386.9 189.7,388.0 191.2,388.9 192.7,388.8 194.2,389.9 195.7,388.9 197.2,389.9 198.7,386.0 200.2,389.1 201.7,389.8 203.2,389.7 204.7,389.9 206.2,386.7 207.7,387.0 209.2,389.3 210.7,389.3 212.2,389.6 213.7,389.4 215.2,387.7 216.7,389.4 218.2,389.5 219.7,389.3 221.2,390.0 222.7,389.8 224.2,389.5 225.7,387.8 227.2,385.8 228.7,389.7 230.2,389.5 231.7,389.6 233.2,389.6 234.7,388.3 236.2,388.6 237.7,387.0 239.2,388.9 240.7,389.9 242.2,386.5 243.7,387.1 245.2,389.3 246.7,389.7 248.2,389.9 249.7,389.9 251.2,389.4 252.7,389.2 254.2,375.0 255.7,389.6 257.2,388.6 258.7,389.8 260.2,388.0 261.7,389.3 263.2,389.3 264.7,389.7 266.2,390.0 267.7,389.9 269.2,389.6 270.7,389.0 272.2,389.9 273.7,389.8 275.2,388.2 276.7,390.0 278.2,389.8 279.7,388.9 281.2,388.3 282.7,389.5 284.2,389.1 285.7,389.6 287.2,389.0 288.7,389.4 290.2,389.9 291.7,389.8 293.2,389.9 294.7,389.1 296.2,388.6 297.7,390.0 299.2,390.0 300.7,388.0 302.2,385.5 303.7,388.1 305.2,389.6 306.7,387.5 308.2,389.2 309.7,389.8 311.2,379.2 312.7,385.9 314.2,389.8 315.7,388.3 317.2,375.0 318.7,384.9 320.2,387.2 321.7,379.7 323.2,389.7 324.7,389.5 326.2,386.8 327.7,388.8 329.2,386.0 330.7,386.1 332.2,389.7 333.7,389.5 335.2,390.0 336.7,389.5 338.2,390.0 339.7,389.3 341.2,389.9 342.7,389.9 344.2,389.9 345.7,389.0 347.2,388.3 348.7,389.2 350.2,389.5 351.7,389.5 353.2,389.9 354.7,390.0 356.2,389.4 357.7,389.7 359.2,389.8 360.7,389.9 362.2,389.8 363.7,389.5 365.2,389.9 366.7,389.9 368.2,389.8 369.7,389.7 371.2,389.1 372.7,389.5 374.2,389.7 375.7,389.9 377.2,388.6 378.7,389.6 380.2,388.7 381.7,389.7 383.2,389.9 384.7,389.4"/>
<polyline fill="none" stroke="#d37295" stroke-width="0.8" stroke-linejoin="miter" points="27.4,390.0 28.8,390.0 30.2,386.2 31.6,389.6 33.0,389.9 34.4,389.5 35.8,389.0 37.2,389.1 38.6,389.6 40.0,389.2 41.4,389.9 42.8,388.9 44.2,389.7 45.6,389.5 47.0,388.8 48.4,389.3 49.8,389.6 51.2,388.6 52.6,389.0 54.0,389.5 55.4,388.3 56.8,389.7 58.2,388.9 59.6,387.8 61.0,388.3 62.4,388.8 63.8,388.5 65.2,388.0 66.6,388.6 68.0,387.5 69.4,389.2 70.8,387.2 72.2,389.2 73.6,389.0 75.0,389.5 76.4,389.3 77.8,389.1 79.2,388.6 80.6,387.1 82.0,388.5 83.4,387.4 84.8,389.7 86.2,389.7 87.6,389.3 89.0,389.4 90.4,389.4 91.8,387.1 93.2,389.4 94.6,389.8 96.0,386.8 97.4,386.1 98.8,388.6 100.2,389.1 101.6,387.2 103.0,389.5 104.4,389.8 105.8,389.3 107.2,388.3 108.6,389.3 110.0,390.0 111.4,389.3 112.8,386.7 114.2,387.1 115.6,387.7 117.0,390.0 118.4,390.0 119.8,387.8 121.2,388.9 122.6,384.3 124.0,388.9 125.4,389.9 126.8,386.6 128.2,389.6 129.6,388.5 131.0,389.1 132.4,387.5 133.8,389.3 135.2,389.9 136.6,387.1 138.0,389.5 139.4,385.8 140.8,383.4 142.2,389.5 143.6,388.7 145.0,388.3 146.4,386.1 147.8,388.6 149.2,389.5 150.6,388.9 152.0,385.8 153.4,385.5 154.8,386.9 156.2,386.2 157.6,390.0 159.0,389.4 160.4,387.5 161.8,389.7 163.2,389.4 164.6,388.1 166.0,384.1 167.4,388.7 168.8,387.5 170.2,386.4 171.6,387.2 173.0,387.6 174.4,380.9 175.8,389.2 177.2,388.6 178.6,389.2 180.0,384.8 181.4,382.2 182.8,385.1 184.2,384.7 185.6,386.7 187.0,387.5 188.4,372.9 189.8,386.7 191.2,389.3 192.6,380.2 194.0,387.4 195.4,389.4 196.8,387.8 198.2,386.7 199.6,379.8 201.0,390.0 202.4,389.4 203.8,389.9 205.2,389.4 206.6,388.5 208.0,388.5 209.4,389.8 210.8,389.6 212.2,389.7 213.6,387.9 215.0,387.5 216.4,388.9 217.8,387.8 219.2,389.9 220.6,389.1 222.0,390.0 223.4,387.6 224.8,389.1 226.2,387.9 227.6,389.1 229.0,389.7 230.4,387.8 231.8,383.4 233.2,386.6 234.6,388.0 236.0,388.1 237.4,389.9 238.8,389.0 240.2,390.0 241.6,388.5 243.0,388.2 244.4,389.6 245.8,389.3 247.2,388.7 248.6,389.4 250.0,388.9 251.4,387.4 252.8,389.4 254.2,389.0 255.6,389.4 257.0,388.6 258.4,390.0 259.8,388.1 261.2,386.4 262.6,389.7 264.0,389.7 265.4,388.7 266.8,389.5 268.2,389.7 269.6,387.7 271.0,388.2 272.4,389.7 273.8,388.9 275.2,390.0 276.6,389.1 278.0,389.9 279.4,390.0 280.8,389.9 282.2,386.3 283.6,388.0 285.0,388.7 286.4,388.6 287.8,389.2 289.2,389.9 290.6,388.8 292.0,389.8 293.4,388.4 294.8,389.7 296.2,381.1 297.6,390.0 299.0,388.8 300.4,386.8 301.8,388.1 303.2,388.4 304.6,387.8 306.0,387.6 307.4,388.7 308.8,389.3 310.2,388.8 311.6,389.2 313.0,389.5 314.4,389.8 315.8,390.0 317.2,388.0 318.6,387.2 320.0,386.3 321.4,386.8 322.8,387.6 324.2,389.9 325.6,388.6 327.0,389.4 328.4,390.0 329.8,389.1 331.2,389.4 332.6,384.7 334.0,389.2 335.4,389.1 336.8,389.7 338.2,389.5 339.6,390.0 341.0,389.9 342.4,387.1 343.8,389.9 345.2,388.1 346.6,388.9 348.0,389.4 349.4,389.8 350.8,388.3 352.2,389.2 353.6,389.7 355.0,389.5 356.4,389.6 357.8,388.8 359.2,389.3 360.6,389.7 362.0,389.7 363.4,389.0 364.8,389.8 366.2,388.7 367.6,389.9 369.0,389.7 370.4,389.9 371.8,389.5 373.2,389.7 374.6,389.8 376.0,389.1 377.4,389.9 378.8,389.4 380.2,390.0 381.6,389.8 383.0,389.5 384.4,389.2"/>
<polyline fill="none" stroke="#fdbf86" stroke-width="0.8" points="200.0,376.0 200.7,376.8 201.4,387.0 202.1,386.2 202.8,386.6 203.5,385.5 204.2,379.5 204.9,384.3 205.6,384.4 206.3,384.1 207.0,381.0 207.7,382.5 208.4,377.5 209.1,371.4 209.8,374.8 210.5,374.1 211.2,368.7 211.9,370.7 212.6,360.0 213.3,366.0 214.0,365.0 214.7,355.4 215.4,347.4 216.1,357.8 216.8,352.4 217.5,361.9 218.2,355.1 218.9,354.3 219.6,358.1 220.3,353.6 221.0,352.0 221.7,340.9 222.4,349.7 223.1,353.7 223.8,333.1 224.5,341.8 225.2,352.4 225.9,339.0 226.6,325.7 227.3,340.0 228.0,339.8 228.7,338.0 229.4,330.0 230.1,330.8 230.8,340.4 231.5,325.0 232.2,352.9 232.9,344.0 233.6,340.0 234.3,347.5 235.0,334.9 235.7,340.1 236.4,341.2 237.1,343.4 237.8,348.2 238.5,337.7 239.2,351.6 239.9,334.1 240.6,326.0 241.3,337.1 242.0,342.2 242.7,350.6 243.4,336.0 244.1,334.5 244.8,341.5 245.5,335.9 246.2,346.1 246.9,333.6 247.6,333.5 248.3,342.9 249.0,343.5 249.7,345.3 250.4,353.2 251.1,345.4 251.8,350.6 252.5,348.9 253.2,347.0 253.9,326.9 254.6,343.6 255.3,346.1 256.0,350.3 256.7,345.5 257.4,326.3 258.1,344.6 258.8,347.4 259.5,330.5 260.2,354.9 260.9,351.3 261.6,341.5 262.3,341.7 263.0,360.7 263.7,356.0 264.4,352.4 265.1,362.7 265.8,359.3 266.5,347.8 267.2,371.3 267.9,357.9 268.6,369.7 269.3,368.6 270.0,354.7 270.7,367.4 271.4,368.8 272.1,368.9 272.8,373.0 273.5,376.9 274.2,376.8 274.9,376.3 275.6,377.5 276.3,377.0 277.0,380.6 277.7,383.2 278.4,379.8 279.1,384.2 279.8,386.1 280.5,381.0 281.2,387.6 281.9,375.5 282.6,386.6 283.3,382.8 284.0,383.7 284.7,387.7 285.4,388.4 286.1,378.0 286.8,385.4 287.5,369.7 288.2,383.3 288.9,387.0 289.6,387.3 290.3,388.2 291.0,385.1 291.7,382.7"/>
<polyline fill="none" stroke="#6b6b6b" stroke-width="0.8" points="248.0,372.2 249.5,372.9 251.0,373.6 252.5,373.2 254.0,372.2 255.5,372.6 257.0,373.9 258.5,371.7 260.0,372.4 261.5,372.5 263.0,372.9 264.5,372.1 266.0,371.5 267.5,371.8 269.0,372.9 270.5,373.3 272.0,372.4 273.5,373.2 275.0,372.4 276.5,371.2 278.0,372.4 279.5,372.7"/>
<line x1="194.3" y1="186.5" x2="194.3" y2="390" stroke="#4e79a7" stroke-width="1.2"/>
<line x1="343.6" y1="186.2" x2="343.6" y2="390" stroke="#8dbfb9" stroke-width="0.9"/>
<line x1="345.0" y1="186.2" x2="345.0" y2="390" stroke="#9cc8c2" stroke-width="0.8"/>
<line x1="225" y1="283" x2="225" y2="390" stroke="#499894" stroke-width="1"/>
<rect x="9" y="390.8" width="393" height="12.9" fill="#97c2d1"/>
<text x="27.5" y="394.5" font-family='"Liberation Sans", Arial, sans-serif' font-size="3" fill="#6a8e9b" text-anchor="middle">1:00</text>
<text x="63.1" y="394.5" font-family='"Liberation Sans", Arial, sans-serif' font-size="3" fill="#6a8e9b" text-anchor="middle">3:00</text>
<text x="98.8" y="394.5" font-family='"Liberation Sans", Arial, sans-serif' font-size="3" fill="#6a8e9b" text-anchor="middle">5:00</text>
<text x="134.4" y="394.5" font-family='"Liberation Sans", Arial, sans-serif' font-size="3" fill="#6a8e9b" text-anchor="middle">7:00</text>
<text x="170.1" y="394.5" font-family='"Liberation Sans", Arial, sans-serif' font-size="3" fill="#6a8e9b" text-anchor="middle">9:00</text>
<text x="205.8" y="394.5" font-family='"Liberation Sans", Arial, sans-serif' font-size="3" fill="#6a8e9b" text-anchor="middle">11:00</text>
<text x="241.4" y="394.5" font-family='"Liberation Sans", Arial, sans-serif' font-size="3" fill="#6a8e9b" text-anchor="middle">13:00</text>
<text x="277.0" y="394.5" font-family='"Liberation Sans", Arial, sans-serif' font-size="3" fill="#6a8e9b" text-anchor="middle">15:00</text>
<text x="312.7" y="394.5" font-family='"Liberation Sans", Arial, sans-serif' font-size="3" fill="#6a8e9b" text-anchor="middle">17:00</text>
<text x="348.3" y="394.5" font-family='"Liberation Sans", Arial, sans-serif' font-size="3" fill="#6a8e9b" text-anchor="middle">19:00</text>
<text x="384.0" y="394.5" font-family='"Liberation Sans", Arial, sans-serif' font-size="3" fill="#6a8e9b" text-anchor="middle">21:00</text>
<text x="404.5" y="190" font-family='"Liberation Sans", Arial, sans-serif' font-size="3" fill="#888">Reg</text>
<rect x="405" y="191.2" width="2.4" height="2.4" fill="#4e79a7"/>
<rect x="405" y="195.2" width="2.4" height="2.4" fill="#a0cbe8"/>
<rect x="405" y="199.3" width="2.4" height="2.4" fill="#f28e2b"/>
<rect x="405" y="203.3" width="2.4" height="2.4" fill="#ffbe7d"/>
<rect x="405" y="207.3" width="2.4" height="2.4" fill="#59a14f"/>
<rect x="405" y="211.3" width="2.4" height="2.4" fill="#8cd17d"/>
<rect x="405" y="215.4" width="2.4" height="2.4" fill="#b6992d"/>
<rect x="405" y="219.4" width="2.4" height="2.4" fill="#f1ce63"/>
<rect x="405" y="223.4" width="2.4" height="2.4" fill="#499894"/>
<rect x="405" y="227.5" width="2.4" height="2.4" fill="#86bcb6"/>
<rect x="405" y="231.5" width="2.4" height="2.4" fill="#e15759"/>
<rect x="405" y="235.5" width="2.4" height="2.4" fill="#ff9d9a"/>
<rect x="405" y="239.6" width="2.4" height="2.4" fill="#79706e"/>
<rect x="405" y="243.6" width="2.4" height="2.4" fill="#bab0ac"/>
<rect x="405" y="247.6" width="2.4" height="2.4" fill="#d37295"/>
<rect x="405" y="251.6" width="2.4" height="2.4" fill="#fabfd2"/>
<rect x="405" y="255.7" width="2.4" height="2.4" fill="#b07aa1"/>
<ellipse cx="193" cy="191.5" rx="16.6" ry="13.2" fill="none" stroke="#ec6b3f" stroke-width="1.7"/>
<ellipse cx="343.6" cy="193" rx="16.9" ry="13.35" fill="none" stroke="#ec6b3f" stroke-width="1.7"/>
<ellipse cx="240.4" cy="344.5" rx="34.3" ry="21" fill="none" stroke="#ec6b3f" stroke-width="1.7"/>
<text x="3.9" y="223" font-family='"Liberation Sans", Arial, sans-serif' font-size="19" fill="#2a2a2e" textLength="271.4" lengthAdjust="spacingAndGlyphs">Delay vs time for each Region</text>
<line x1="497.5" y1="23.2" x2="820" y2="23.2" stroke="#e6e6e6" stroke-width="0.7"/>
<line x1="497.5" y1="180.2" x2="820" y2="180.2" stroke="#dedede" stroke-width="0.7"/>
<line x1="517" y1="23.2" x2="517" y2="345" stroke="#eeeeee" stroke-width="0.7"/>
<text x="668.6" y="21.5" font-family='"Liberation Sans", Arial, sans-serif' font-size="3" fill="#777" text-anchor="middle">Region</text>
<text x="514" y="178.9" font-family='"Liberation Sans", Arial, sans-serif' font-size="3.5" fill="#999" text-anchor="end">0</text>
<line x1="517" y1="164.7" x2="816" y2="164.7" stroke="#f4f4f4" stroke-width="0.6"/>
<text x="514" y="165.9" font-family='"Liberation Sans", Arial, sans-serif' font-size="3.5" fill="#999" text-anchor="end">2</text>
<line x1="517" y1="148.6" x2="816" y2="148.6" stroke="#f4f4f4" stroke-width="0.6"/>
<text x="514" y="149.8" font-family='"Liberation Sans", Arial, sans-serif' font-size="3.5" fill="#999" text-anchor="end">4</text>
<line x1="517" y1="132.6" x2="816" y2="132.6" stroke="#f4f4f4" stroke-width="0.6"/>
<text x="514" y="133.8" font-family='"Liberation Sans", Arial, sans-serif' font-size="3.5" fill="#999" text-anchor="end">6</text>
<line x1="517" y1="116.5" x2="816" y2="116.5" stroke="#f4f4f4" stroke-width="0.6"/>
<text x="514" y="117.7" font-family='"Liberation Sans", Arial, sans-serif' font-size="3.5" fill="#999" text-anchor="end">8</text>
<line x1="517" y1="100.5" x2="816" y2="100.5" stroke="#f4f4f4" stroke-width="0.6"/>
<text x="514" y="101.7" font-family='"Liberation Sans", Arial, sans-serif' font-size="3.5" fill="#999" text-anchor="end">10</text>
<line x1="517" y1="84.5" x2="816" y2="84.5" stroke="#f4f4f4" stroke-width="0.6"/>
<text x="514" y="85.7" font-family='"Liberation Sans", Arial, sans-serif' font-size="3.5" fill="#999" text-anchor="end">12</text>
<line x1="517" y1="68.4" x2="816" y2="68.4" stroke="#f4f4f4" stroke-width="0.6"/>
<text x="514" y="69.6" font-family='"Liberation Sans", Arial, sans-serif' font-size="3.5" fill="#999" text-anchor="end">14</text>
<line x1="517" y1="52.4" x2="816" y2="52.4" stroke="#f4f4f4" stroke-width="0.6"/>
<text x="514" y="53.6" font-family='"Liberation Sans", Arial, sans-serif' font-size="3.5" fill="#999" text-anchor="end">16</text>
<line x1="517" y1="36.3" x2="816" y2="36.3" stroke="#f4f4f4" stroke-width="0.6"/>
<text x="514" y="37.5" font-family='"Liberation Sans", Arial, sans-serif' font-size="3.5" fill="#999" text-anchor="end">18</text>
<line x1="497.5" y1="337.3" x2="816" y2="337.3" stroke="#e0e0e0" stroke-width="0.6"/>
<text x="514" y="338.5" font-family='"Liberation Sans", Arial, sans-serif' font-size="3.5" fill="#999" text-anchor="end">0</text>
<line x1="517" y1="322.8" x2="816" y2="322.8" stroke="#f4f4f4" stroke-width="0.6"/>
<text x="514" y="324.0" font-family='"Liberation Sans", Arial, sans-serif' font-size="3.5" fill="#999" text-anchor="end">1</text>
<line x1="517" y1="308.3" x2="816" y2="308.3" stroke="#f4f4f4" stroke-width="0.6"/>
<text x="514" y="309.5" font-family='"Liberation Sans", Arial, sans-serif' font-size="3.5" fill="#999" text-anchor="end">2</text>
<line x1="517" y1="293.8" x2="816" y2="293.8" stroke="#f4f4f4" stroke-width="0.6"/>
<text x="514" y="295.0" font-family='"Liberation Sans", Arial, sans-serif' font-size="3.5" fill="#999" text-anchor="end">3</text>
<line x1="517" y1="279.3" x2="816" y2="279.3" stroke="#f4f4f4" stroke-width="0.6"/>
<text x="514" y="280.5" font-family='"Liberation Sans", Arial, sans-serif' font-size="3.5" fill="#999" text-anchor="end">4</text>
<line x1="517" y1="264.8" x2="816" y2="264.8" stroke="#f4f4f4" stroke-width="0.6"/>
<text x="514" y="266.0" font-family='"Liberation Sans", Arial, sans-serif' font-size="3.5" fill="#999" text-anchor="end">5</text>
<line x1="517" y1="250.3" x2="816" y2="250.3" stroke="#f4f4f4" stroke-width="0.6"/>
<text x="514" y="251.5" font-family='"Liberation Sans", Arial, sans-serif' font-size="3.5" fill="#999" text-anchor="end">6</text>
<line x1="517" y1="235.8" x2="816" y2="235.8" stroke="#f4f4f4" stroke-width="0.6"/>
<text x="514" y="237.0" font-family='"Liberation Sans", Arial, sans-serif' font-size="3.5" fill="#999" text-anchor="end">7</text>
<line x1="517" y1="221.3" x2="816" y2="221.3" stroke="#f4f4f4" stroke-width="0.6"/>
<text x="514" y="222.5" font-family='"Liberation Sans", Arial, sans-serif' font-size="3.5" fill="#999" text-anchor="end">8</text>
<line x1="517" y1="206.8" x2="816" y2="206.8" stroke="#f4f4f4" stroke-width="0.6"/>
<text x="514" y="208.0" font-family='"Liberation Sans", Arial, sans-serif' font-size="3.5" fill="#999" text-anchor="end">9</text>
<line x1="517" y1="192.3" x2="816" y2="192.3" stroke="#f4f4f4" stroke-width="0.6"/>
<text x="514" y="193.5" font-family='"Liberation Sans", Arial, sans-serif' font-size="3.5" fill="#999" text-anchor="end">10</text>
<text transform="translate(503.5,102) rotate(-90)" font-family='"Liberation Sans", Arial, sans-serif' font-size="3.5" fill="#888" text-anchor="middle">Avg Delay(Sec)</text>
<text transform="translate(503.5,256) rotate(-90)" font-family='"Liberation Sans", Arial, sans-serif' font-size="3.5" fill="#888" text-anchor="middle">Avg Delay(Sec)</text>
<text x="814" y="342" font-family='"Liberation Sans", Arial, sans-serif' font-size="3" fill="#999">(x)</text>
<line x1="526.0" y1="159.0" x2="526.0" y2="166.6" stroke="#4e79a7" stroke-width="1.4"/>
<circle cx="525.6" cy="159.9" r="1.0" fill="#4e79a7"/>
<circle cx="525.8" cy="161.8" r="1.0" fill="#4e79a7"/>
<circle cx="526.2" cy="163.8" r="1.0" fill="#4e79a7"/>
<circle cx="525.6" cy="165.7" r="1.0" fill="#4e79a7"/>
<rect x="521.4" y="160.5" width="9.2" height="5.0" fill="#d3d3d3" fill-opacity="0.6"/>
<line x1="521.4" y1="159.0" x2="530.6" y2="159.0" stroke="#6f6f6f" stroke-width="0.8"/>
<line x1="521.4" y1="166.6" x2="530.6" y2="166.6" stroke="#6f6f6f" stroke-width="0.8"/>
<circle cx="526.0" cy="154.6" r="1.1" fill="#4e79a7"/>
<line x1="543.8" y1="97.0" x2="543.8" y2="105.0" stroke="#a0cbe8" stroke-width="1.4"/>
<circle cx="543.6" cy="97.8" r="1.0" fill="#a0cbe8"/>
<circle cx="543.4" cy="99.4" r="1.0" fill="#a0cbe8"/>
<circle cx="543.6" cy="101.0" r="1.0" fill="#a0cbe8"/>
<circle cx="543.9" cy="102.6" r="1.0" fill="#a0cbe8"/>
<circle cx="543.6" cy="104.2" r="1.0" fill="#a0cbe8"/>
<rect x="539.2" y="97.5" width="9.2" height="7.0" fill="#bcbcbc" fill-opacity="0.85"/>
<line x1="539.2" y1="97.0" x2="548.4" y2="97.0" stroke="#6f6f6f" stroke-width="0.8"/>
<line x1="539.2" y1="105.0" x2="548.4" y2="105.0" stroke="#6f6f6f" stroke-width="0.8"/>
<line x1="561.5" y1="146.0" x2="561.5" y2="174.3" stroke="#f28e2b" stroke-width="1.4"/>
<circle cx="561.6" cy="146.8" r="1.0" fill="#f28e2b"/>
<circle cx="561.2" cy="148.5" r="1.0" fill="#f28e2b"/>
<circle cx="561.8" cy="150.2" r="1.0" fill="#f28e2b"/>
<circle cx="561.2" cy="151.8" r="1.0" fill="#f28e2b"/>
<circle cx="561.2" cy="153.5" r="1.0" fill="#f28e2b"/>
<circle cx="561.5" cy="155.2" r="1.0" fill="#f28e2b"/>
<circle cx="561.8" cy="156.8" r="1.0" fill="#f28e2b"/>
<circle cx="561.7" cy="158.5" r="1.0" fill="#f28e2b"/>
<circle cx="561.9" cy="160.2" r="1.0" fill="#f28e2b"/>
<circle cx="561.7" cy="161.8" r="1.0" fill="#f28e2b"/>
<circle cx="561.4" cy="163.5" r="1.0" fill="#f28e2b"/>
<circle cx="561.4" cy="165.1" r="1.0" fill="#f28e2b"/>
<circle cx="561.7" cy="166.8" r="1.0" fill="#f28e2b"/>
<circle cx="561.3" cy="168.5" r="1.0" fill="#f28e2b"/>
<circle cx="561.8" cy="170.1" r="1.0" fill="#f28e2b"/>
<circle cx="561.8" cy="171.8" r="1.0" fill="#f28e2b"/>
<circle cx="561.7" cy="173.5" r="1.0" fill="#f28e2b"/>
<rect x="556.9" y="158.9" width="9.2" height="11.6" fill="#d3d3d3" fill-opacity="0.6"/>
<line x1="556.9" y1="165.3" x2="566.1" y2="165.3" stroke="#b5b5b5" stroke-width="1"/>
<line x1="556.9" y1="146.0" x2="566.1" y2="146.0" stroke="#6f6f6f" stroke-width="0.8"/>
<line x1="556.9" y1="174.3" x2="566.1" y2="174.3" stroke="#6f6f6f" stroke-width="0.8"/>
<line x1="579.1" y1="150.2" x2="579.1" y2="164.5" stroke="#ffbe7d" stroke-width="1.4"/>
<circle cx="579.1" cy="151.1" r="1.0" fill="#ffbe7d"/>
<circle cx="578.8" cy="152.9" r="1.0" fill="#ffbe7d"/>
<circle cx="578.9" cy="154.7" r="1.0" fill="#ffbe7d"/>
<circle cx="578.9" cy="156.5" r="1.0" fill="#ffbe7d"/>
<circle cx="579.0" cy="158.2" r="1.0" fill="#ffbe7d"/>
<circle cx="579.1" cy="160.0" r="1.0" fill="#ffbe7d"/>
<circle cx="579.1" cy="161.8" r="1.0" fill="#ffbe7d"/>
<circle cx="578.9" cy="163.6" r="1.0" fill="#ffbe7d"/>
<rect x="574.5" y="155.7" width="9.2" height="6.0" fill="#d3d3d3" fill-opacity="0.6"/>
<line x1="574.5" y1="150.2" x2="583.7" y2="150.2" stroke="#6f6f6f" stroke-width="0.8"/>
<line x1="574.5" y1="164.5" x2="583.7" y2="164.5" stroke="#6f6f6f" stroke-width="0.8"/>
<circle cx="579.1" cy="94.0" r="1.1" fill="#ffbe7d"/>
<circle cx="579.1" cy="124.6" r="1.1" fill="#ffbe7d"/>
<circle cx="579.1" cy="132.0" r="1.1" fill="#ffbe7d"/>
<line x1="597.0" y1="129.0" x2="597.0" y2="138.0" stroke="#59a14f" stroke-width="1.4"/>
<circle cx="597.2" cy="129.9" r="1.0" fill="#59a14f"/>
<circle cx="597.2" cy="131.7" r="1.0" fill="#59a14f"/>
<circle cx="597.3" cy="133.5" r="1.0" fill="#59a14f"/>
<circle cx="596.8" cy="135.3" r="1.0" fill="#59a14f"/>
<circle cx="597.1" cy="137.1" r="1.0" fill="#59a14f"/>
<rect x="592.4" y="130.5" width="9.2" height="5.5" fill="#d3d3d3" fill-opacity="0.6"/>
<line x1="592.4" y1="129.0" x2="601.6" y2="129.0" stroke="#6f6f6f" stroke-width="0.8"/>
<line x1="592.4" y1="138.0" x2="601.6" y2="138.0" stroke="#6f6f6f" stroke-width="0.8"/>
<circle cx="597.0" cy="111.6" r="1.1" fill="#59a14f"/>
<circle cx="597.0" cy="114.5" r="1.1" fill="#59a14f"/>
<circle cx="597.0" cy="117.5" r="1.1" fill="#59a14f"/>
<circle cx="597.0" cy="120.5" r="1.1" fill="#59a14f"/>
<circle cx="597.0" cy="123.5" r="1.1" fill="#59a14f"/>
<circle cx="597.0" cy="126.5" r="1.1" fill="#59a14f"/>
<line x1="615.0" y1="164.0" x2="615.0" y2="173.8" stroke="#8cd17d" stroke-width="1.4"/>
<circle cx="615.1" cy="164.8" r="1.0" fill="#8cd17d"/>
<circle cx="614.9" cy="166.4" r="1.0" fill="#8cd17d"/>
<circle cx="614.9" cy="168.1" r="1.0" fill="#8cd17d"/>
<circle cx="615.2" cy="169.7" r="1.0" fill="#8cd17d"/>
<circle cx="615.1" cy="171.4" r="1.0" fill="#8cd17d"/>
<circle cx="615.3" cy="173.0" r="1.0" fill="#8cd17d"/>
<rect x="610.4" y="167.0" width="9.2" height="5.3" fill="#d3d3d3" fill-opacity="0.6"/>
<line x1="610.4" y1="164.0" x2="619.6" y2="164.0" stroke="#6f6f6f" stroke-width="0.8"/>
<line x1="610.4" y1="173.8" x2="619.6" y2="173.8" stroke="#6f6f6f" stroke-width="0.8"/>
<circle cx="615.0" cy="150.5" r="1.1" fill="#8cd17d"/>
<circle cx="615.0" cy="160.3" r="1.1" fill="#8cd17d"/>
<line x1="632.6" y1="154.5" x2="632.6" y2="178.6" stroke="#b6992d" stroke-width="1.4"/>
<circle cx="632.6" cy="155.3" r="1.0" fill="#b6992d"/>
<circle cx="632.9" cy="156.9" r="1.0" fill="#b6992d"/>
<circle cx="632.9" cy="158.5" r="1.0" fill="#b6992d"/>
<circle cx="632.8" cy="160.1" r="1.0" fill="#b6992d"/>
<circle cx="632.9" cy="161.7" r="1.0" fill="#b6992d"/>
<circle cx="632.8" cy="163.3" r="1.0" fill="#b6992d"/>
<circle cx="632.6" cy="164.9" r="1.0" fill="#b6992d"/>
<circle cx="632.4" cy="166.5" r="1.0" fill="#b6992d"/>
<circle cx="632.9" cy="168.2" r="1.0" fill="#b6992d"/>
<circle cx="632.3" cy="169.8" r="1.0" fill="#b6992d"/>
<circle cx="632.5" cy="171.4" r="1.0" fill="#b6992d"/>
<circle cx="632.4" cy="173.0" r="1.0" fill="#b6992d"/>
<circle cx="632.7" cy="174.6" r="1.0" fill="#b6992d"/>
<circle cx="632.9" cy="176.2" r="1.0" fill="#b6992d"/>
<circle cx="632.5" cy="177.8" r="1.0" fill="#b6992d"/>
<rect x="628.0" y="162.4" width="9.2" height="11.4" fill="#d3d3d3" fill-opacity="0.6"/>
<line x1="628.0" y1="168.7" x2="637.2" y2="168.7" stroke="#b5b5b5" stroke-width="1"/>
<line x1="628.0" y1="154.5" x2="637.2" y2="154.5" stroke="#6f6f6f" stroke-width="0.8"/>
<line x1="628.0" y1="178.6" x2="637.2" y2="178.6" stroke="#6f6f6f" stroke-width="0.8"/>
<circle cx="632.6" cy="130.0" r="1.1" fill="#b6992d"/>
<circle cx="632.6" cy="133.7" r="1.1" fill="#b6992d"/>
<circle cx="632.6" cy="31.3" r="1.1" fill="#b6992d"/>
<line x1="650.5" y1="144.0" x2="650.5" y2="150.5" stroke="#f1ce63" stroke-width="1.4"/>
<circle cx="650.7" cy="144.8" r="1.0" fill="#f1ce63"/>
<circle cx="650.7" cy="146.4" r="1.0" fill="#f1ce63"/>
<circle cx="650.6" cy="148.1" r="1.0" fill="#f1ce63"/>
<circle cx="650.3" cy="149.7" r="1.0" fill="#f1ce63"/>
<rect x="645.9" y="144.0" width="9.2" height="6.5" fill="#d3d3d3" fill-opacity="0.6"/>
<line x1="645.9" y1="144.0" x2="655.1" y2="144.0" stroke="#6f6f6f" stroke-width="0.8"/>
<line x1="645.9" y1="150.5" x2="655.1" y2="150.5" stroke="#6f6f6f" stroke-width="0.8"/>
<line x1="668.6" y1="157.2" x2="668.6" y2="170.3" stroke="#499894" stroke-width="1.4"/>
<circle cx="668.9" cy="158.0" r="1.0" fill="#499894"/>
<circle cx="668.6" cy="159.7" r="1.0" fill="#499894"/>
<circle cx="668.8" cy="161.3" r="1.0" fill="#499894"/>
<circle cx="668.6" cy="162.9" r="1.0" fill="#499894"/>
<circle cx="668.9" cy="164.6" r="1.0" fill="#499894"/>
<circle cx="668.8" cy="166.2" r="1.0" fill="#499894"/>
<circle cx="668.3" cy="167.8" r="1.0" fill="#499894"/>
<circle cx="668.3" cy="169.5" r="1.0" fill="#499894"/>
<rect x="664.0" y="162.4" width="9.2" height="5.2" fill="#d3d3d3" fill-opacity="0.6"/>
<line x1="664.0" y1="157.2" x2="673.2" y2="157.2" stroke="#6f6f6f" stroke-width="0.8"/>
<line x1="664.0" y1="170.3" x2="673.2" y2="170.3" stroke="#6f6f6f" stroke-width="0.8"/>
<circle cx="668.6" cy="154.0" r="1.1" fill="#499894"/>
<line x1="686.3" y1="167.0" x2="686.3" y2="170.7" stroke="#86bcb6" stroke-width="1.4"/>
<circle cx="686.6" cy="167.5" r="1.0" fill="#86bcb6"/>
<circle cx="686.2" cy="168.4" r="1.0" fill="#86bcb6"/>
<circle cx="686.2" cy="169.3" r="1.0" fill="#86bcb6"/>
<circle cx="685.9" cy="170.2" r="1.0" fill="#86bcb6"/>
<rect x="681.7" y="167.0" width="9.2" height="3.7" fill="#d3d3d3" fill-opacity="0.6"/>
<line x1="681.7" y1="167.0" x2="690.9" y2="167.0" stroke="#6f6f6f" stroke-width="0.8"/>
<line x1="681.7" y1="170.7" x2="690.9" y2="170.7" stroke="#6f6f6f" stroke-width="0.8"/>
<circle cx="686.3" cy="161.3" r="1.1" fill="#86bcb6"/>
<line x1="704.0" y1="158.2" x2="704.0" y2="173.2" stroke="#e15759" stroke-width="1.4"/>
<circle cx="704.1" cy="159.0" r="1.0" fill="#e15759"/>
<circle cx="704.2" cy="160.7" r="1.0" fill="#e15759"/>
<circle cx="704.3" cy="162.4" r="1.0" fill="#e15759"/>
<circle cx="703.8" cy="164.0" r="1.0" fill="#e15759"/>
<circle cx="704.3" cy="165.7" r="1.0" fill="#e15759"/>
<circle cx="703.7" cy="167.4" r="1.0" fill="#e15759"/>
<circle cx="703.9" cy="169.0" r="1.0" fill="#e15759"/>
<circle cx="703.9" cy="170.7" r="1.0" fill="#e15759"/>
<circle cx="704.1" cy="172.4" r="1.0" fill="#e15759"/>
<rect x="699.4" y="163.4" width="9.2" height="6.2" fill="#d3d3d3" fill-opacity="0.6"/>
<line x1="699.4" y1="158.2" x2="708.6" y2="158.2" stroke="#6f6f6f" stroke-width="0.8"/>
<line x1="699.4" y1="173.2" x2="708.6" y2="173.2" stroke="#6f6f6f" stroke-width="0.8"/>
<circle cx="704.0" cy="154.7" r="1.1" fill="#e15759"/>
<line x1="722.0" y1="171.3" x2="722.0" y2="178.0" stroke="#ff9d9a" stroke-width="1.4"/>
<circle cx="722.0" cy="172.1" r="1.0" fill="#ff9d9a"/>
<circle cx="722.0" cy="173.8" r="1.0" fill="#ff9d9a"/>
<circle cx="722.0" cy="175.5" r="1.0" fill="#ff9d9a"/>
<circle cx="722.3" cy="177.2" r="1.0" fill="#ff9d9a"/>
<rect x="717.4" y="172.0" width="9.2" height="5.5" fill="#d3d3d3" fill-opacity="0.6"/>
<line x1="717.4" y1="171.3" x2="726.6" y2="171.3" stroke="#6f6f6f" stroke-width="0.8"/>
<line x1="717.4" y1="178.0" x2="726.6" y2="178.0" stroke="#6f6f6f" stroke-width="0.8"/>
<line x1="739.7" y1="148.9" x2="739.7" y2="163.4" stroke="#79706e" stroke-width="1.4"/>
<circle cx="739.5" cy="149.7" r="1.0" fill="#79706e"/>
<circle cx="739.5" cy="151.3" r="1.0" fill="#79706e"/>
<circle cx="740.0" cy="152.9" r="1.0" fill="#79706e"/>
<circle cx="739.5" cy="154.5" r="1.0" fill="#79706e"/>
<circle cx="739.8" cy="156.2" r="1.0" fill="#79706e"/>
<circle cx="740.0" cy="157.8" r="1.0" fill="#79706e"/>
<circle cx="739.4" cy="159.4" r="1.0" fill="#79706e"/>
<circle cx="739.9" cy="161.0" r="1.0" fill="#79706e"/>
<circle cx="739.3" cy="162.6" r="1.0" fill="#79706e"/>
<rect x="735.1" y="151.0" width="9.2" height="8.3" fill="#d3d3d3" fill-opacity="0.6"/>
<line x1="735.1" y1="148.9" x2="744.3" y2="148.9" stroke="#6f6f6f" stroke-width="0.8"/>
<line x1="735.1" y1="163.4" x2="744.3" y2="163.4" stroke="#6f6f6f" stroke-width="0.8"/>
<circle cx="739.7" cy="127.7" r="1.1" fill="#79706e"/>
<circle cx="739.7" cy="134.3" r="1.1" fill="#79706e"/>
<circle cx="739.7" cy="138.5" r="1.1" fill="#79706e"/>
<line x1="757.4" y1="173.8" x2="757.4" y2="175.9" stroke="#bab0ac" stroke-width="1.4"/>
<circle cx="757.4" cy="174.1" r="1.0" fill="#bab0ac"/>
<circle cx="757.4" cy="174.6" r="1.0" fill="#bab0ac"/>
<circle cx="757.6" cy="175.1" r="1.0" fill="#bab0ac"/>
<circle cx="757.6" cy="175.6" r="1.0" fill="#bab0ac"/>
<rect x="752.8" y="173.8" width="9.2" height="2.1" fill="#d3d3d3" fill-opacity="0.6"/>
<line x1="752.8" y1="173.8" x2="762.0" y2="173.8" stroke="#6f6f6f" stroke-width="0.8"/>
<line x1="752.8" y1="175.9" x2="762.0" y2="175.9" stroke="#6f6f6f" stroke-width="0.8"/>
<circle cx="757.4" cy="167.6" r="1.1" fill="#bab0ac"/>
<line x1="775.0" y1="174.2" x2="775.0" y2="179.4" stroke="#d37295" stroke-width="1.4"/>
<circle cx="774.6" cy="174.8" r="1.0" fill="#d37295"/>
<circle cx="774.7" cy="176.2" r="1.0" fill="#d37295"/>
<circle cx="775.1" cy="177.4" r="1.0" fill="#d37295"/>
<circle cx="775.2" cy="178.8" r="1.0" fill="#d37295"/>
<rect x="770.4" y="174.2" width="9.2" height="5.2" fill="#d3d3d3" fill-opacity="0.6"/>
<line x1="770.4" y1="174.2" x2="779.6" y2="174.2" stroke="#6f6f6f" stroke-width="0.8"/>
<line x1="770.4" y1="179.4" x2="779.6" y2="179.4" stroke="#6f6f6f" stroke-width="0.8"/>
<line x1="793.2" y1="175.9" x2="793.2" y2="179.0" stroke="#fabfd2" stroke-width="1.4"/>
<circle cx="792.9" cy="176.3" r="1.0" fill="#fabfd2"/>
<circle cx="793.3" cy="177.1" r="1.0" fill="#fabfd2"/>
<circle cx="792.9" cy="177.8" r="1.0" fill="#fabfd2"/>
<circle cx="793.2" cy="178.6" r="1.0" fill="#fabfd2"/>
<rect x="788.6" y="175.9" width="9.2" height="3.1" fill="#d3d3d3" fill-opacity="0.6"/>
<line x1="788.6" y1="175.9" x2="797.8" y2="175.9" stroke="#6f6f6f" stroke-width="0.8"/>
<line x1="788.6" y1="179.0" x2="797.8" y2="179.0" stroke="#6f6f6f" stroke-width="0.8"/>
<line x1="811.2" y1="173.8" x2="811.2" y2="179.4" stroke="#b07aa1" stroke-width="1.4"/>
<circle cx="811.6" cy="174.5" r="1.0" fill="#b07aa1"/>
<circle cx="811.5" cy="175.9" r="1.0" fill="#b07aa1"/>
<circle cx="811.4" cy="177.3" r="1.0" fill="#b07aa1"/>
<circle cx="811.2" cy="178.7" r="1.0" fill="#b07aa1"/>
<rect x="806.6" y="173.8" width="9.2" height="5.6" fill="#d3d3d3" fill-opacity="0.6"/>
<line x1="806.6" y1="173.8" x2="815.8" y2="173.8" stroke="#6f6f6f" stroke-width="0.8"/>
<line x1="806.6" y1="179.4" x2="815.8" y2="179.4" stroke="#6f6f6f" stroke-width="0.8"/>
<line x1="526.2" y1="299.3" x2="526.2" y2="312.7" stroke="#4e79a7" stroke-width="1.4"/>
<circle cx="526.5" cy="300.1" r="1.0" fill="#4e79a7"/>
<circle cx="526.4" cy="301.8" r="1.0" fill="#4e79a7"/>
<circle cx="525.8" cy="303.5" r="1.0" fill="#4e79a7"/>
<circle cx="526.3" cy="305.2" r="1.0" fill="#4e79a7"/>
<circle cx="526.3" cy="306.8" r="1.0" fill="#4e79a7"/>
<circle cx="526.2" cy="308.5" r="1.0" fill="#4e79a7"/>
<circle cx="526.1" cy="310.2" r="1.0" fill="#4e79a7"/>
<circle cx="526.1" cy="311.9" r="1.0" fill="#4e79a7"/>
<rect x="521.6" y="302.8" width="9.2" height="6.1" fill="#d3d3d3" fill-opacity="0.6"/>
<line x1="521.6" y1="299.3" x2="530.8" y2="299.3" stroke="#6f6f6f" stroke-width="0.8"/>
<line x1="521.6" y1="312.7" x2="530.8" y2="312.7" stroke="#6f6f6f" stroke-width="0.8"/>
<circle cx="526.2" cy="293.6" r="1.1" fill="#4e79a7"/>
<line x1="543.9" y1="188.6" x2="543.9" y2="201.0" stroke="#a0cbe8" stroke-width="1.4"/>
<circle cx="543.7" cy="189.5" r="1.0" fill="#a0cbe8"/>
<circle cx="544.1" cy="191.3" r="1.0" fill="#a0cbe8"/>
<circle cx="544.1" cy="193.0" r="1.0" fill="#a0cbe8"/>
<circle cx="543.6" cy="194.8" r="1.0" fill="#a0cbe8"/>
<circle cx="544.1" cy="196.6" r="1.0" fill="#a0cbe8"/>
<circle cx="544.1" cy="198.3" r="1.0" fill="#a0cbe8"/>
<circle cx="544.1" cy="200.1" r="1.0" fill="#a0cbe8"/>
<rect x="539.3" y="189.0" width="9.2" height="11.5" fill="#bcbcbc" fill-opacity="0.85"/>
<line x1="539.3" y1="195.3" x2="548.5" y2="195.3" stroke="#b5b5b5" stroke-width="1"/>
<line x1="539.3" y1="188.6" x2="548.5" y2="188.6" stroke="#6f6f6f" stroke-width="0.8"/>
<line x1="539.3" y1="201.0" x2="548.5" y2="201.0" stroke="#6f6f6f" stroke-width="0.8"/>
<line x1="560.5" y1="294.4" x2="560.5" y2="329.4" stroke="#f28e2b" stroke-width="1.4"/>
<circle cx="560.3" cy="295.2" r="1.0" fill="#f28e2b"/>
<circle cx="560.4" cy="296.9" r="1.0" fill="#f28e2b"/>
<circle cx="560.3" cy="298.6" r="1.0" fill="#f28e2b"/>
<circle cx="560.8" cy="300.2" r="1.0" fill="#f28e2b"/>
<circle cx="560.8" cy="301.9" r="1.0" fill="#f28e2b"/>
<circle cx="560.6" cy="303.6" r="1.0" fill="#f28e2b"/>
<circle cx="560.2" cy="305.2" r="1.0" fill="#f28e2b"/>
<circle cx="560.2" cy="306.9" r="1.0" fill="#f28e2b"/>
<circle cx="560.4" cy="308.6" r="1.0" fill="#f28e2b"/>
<circle cx="560.2" cy="310.2" r="1.0" fill="#f28e2b"/>
<circle cx="560.5" cy="311.9" r="1.0" fill="#f28e2b"/>
<circle cx="560.3" cy="313.6" r="1.0" fill="#f28e2b"/>
<circle cx="560.2" cy="315.2" r="1.0" fill="#f28e2b"/>
<circle cx="560.3" cy="316.9" r="1.0" fill="#f28e2b"/>
<circle cx="560.4" cy="318.6" r="1.0" fill="#f28e2b"/>
<circle cx="560.6" cy="320.2" r="1.0" fill="#f28e2b"/>
<circle cx="560.3" cy="321.9" r="1.0" fill="#f28e2b"/>
<circle cx="560.5" cy="323.6" r="1.0" fill="#f28e2b"/>
<circle cx="560.4" cy="325.2" r="1.0" fill="#f28e2b"/>
<circle cx="560.2" cy="326.9" r="1.0" fill="#f28e2b"/>
<circle cx="560.2" cy="328.6" r="1.0" fill="#f28e2b"/>
<rect x="555.9" y="304.0" width="9.2" height="20.0" fill="#d3d3d3" fill-opacity="0.6"/>
<line x1="555.9" y1="315.0" x2="565.1" y2="315.0" stroke="#b5b5b5" stroke-width="1"/>
<line x1="555.9" y1="294.4" x2="565.1" y2="294.4" stroke="#6f6f6f" stroke-width="0.8"/>
<line x1="555.9" y1="329.4" x2="565.1" y2="329.4" stroke="#6f6f6f" stroke-width="0.8"/>
<line x1="579.6" y1="289.8" x2="579.6" y2="312.7" stroke="#ffbe7d" stroke-width="1.4"/>
<circle cx="579.4" cy="290.6" r="1.0" fill="#ffbe7d"/>
<circle cx="579.4" cy="292.3" r="1.0" fill="#ffbe7d"/>
<circle cx="579.3" cy="293.9" r="1.0" fill="#ffbe7d"/>
<circle cx="579.8" cy="295.5" r="1.0" fill="#ffbe7d"/>
<circle cx="579.6" cy="297.2" r="1.0" fill="#ffbe7d"/>
<circle cx="579.4" cy="298.8" r="1.0" fill="#ffbe7d"/>
<circle cx="579.8" cy="300.4" r="1.0" fill="#ffbe7d"/>
<circle cx="579.5" cy="302.1" r="1.0" fill="#ffbe7d"/>
<circle cx="579.4" cy="303.7" r="1.0" fill="#ffbe7d"/>
<circle cx="579.5" cy="305.3" r="1.0" fill="#ffbe7d"/>
<circle cx="579.7" cy="307.0" r="1.0" fill="#ffbe7d"/>
<circle cx="579.4" cy="308.6" r="1.0" fill="#ffbe7d"/>
<circle cx="579.4" cy="310.2" r="1.0" fill="#ffbe7d"/>
<circle cx="579.9" cy="311.9" r="1.0" fill="#ffbe7d"/>
<rect x="575.0" y="299.0" width="9.2" height="7.6" fill="#d3d3d3" fill-opacity="0.6"/>
<line x1="575.0" y1="289.8" x2="584.2" y2="289.8" stroke="#6f6f6f" stroke-width="0.8"/>
<line x1="575.0" y1="312.7" x2="584.2" y2="312.7" stroke="#6f6f6f" stroke-width="0.8"/>
<circle cx="579.6" cy="234.0" r="1.1" fill="#ffbe7d"/>
<circle cx="579.6" cy="268.4" r="1.1" fill="#ffbe7d"/>
<circle cx="579.6" cy="280.6" r="1.1" fill="#ffbe7d"/>
<line x1="597.9" y1="244.0" x2="597.9" y2="262.0" stroke="#59a14f" stroke-width="1.4"/>
<circle cx="597.9" cy="244.8" r="1.0" fill="#59a14f"/>
<circle cx="598.1" cy="246.5" r="1.0" fill="#59a14f"/>
<circle cx="598.2" cy="248.1" r="1.0" fill="#59a14f"/>
<circle cx="597.7" cy="249.7" r="1.0" fill="#59a14f"/>
<circle cx="597.9" cy="251.4" r="1.0" fill="#59a14f"/>
<circle cx="597.6" cy="253.0" r="1.0" fill="#59a14f"/>
<circle cx="598.3" cy="254.6" r="1.0" fill="#59a14f"/>
<circle cx="598.1" cy="256.3" r="1.0" fill="#59a14f"/>
<circle cx="598.0" cy="257.9" r="1.0" fill="#59a14f"/>
<circle cx="597.7" cy="259.5" r="1.0" fill="#59a14f"/>
<circle cx="598.3" cy="261.2" r="1.0" fill="#59a14f"/>
<rect x="593.3" y="246.7" width="9.2" height="11.3" fill="#d3d3d3" fill-opacity="0.6"/>
<line x1="593.3" y1="252.9" x2="602.5" y2="252.9" stroke="#b5b5b5" stroke-width="1"/>
<line x1="593.3" y1="244.0" x2="602.5" y2="244.0" stroke="#6f6f6f" stroke-width="0.8"/>
<line x1="593.3" y1="262.0" x2="602.5" y2="262.0" stroke="#6f6f6f" stroke-width="0.8"/>
<circle cx="597.9" cy="235.3" r="1.1" fill="#59a14f"/>
<circle cx="597.9" cy="238.5" r="1.1" fill="#59a14f"/>
<circle cx="597.9" cy="241.5" r="1.1" fill="#59a14f"/>
<line x1="615.0" y1="315.6" x2="615.0" y2="332.3" stroke="#8cd17d" stroke-width="1.4"/>
<circle cx="614.6" cy="316.4" r="1.0" fill="#8cd17d"/>
<circle cx="614.9" cy="318.1" r="1.0" fill="#8cd17d"/>
<circle cx="615.4" cy="319.8" r="1.0" fill="#8cd17d"/>
<circle cx="614.9" cy="321.4" r="1.0" fill="#8cd17d"/>
<circle cx="615.2" cy="323.1" r="1.0" fill="#8cd17d"/>
<circle cx="615.4" cy="324.8" r="1.0" fill="#8cd17d"/>
<circle cx="615.2" cy="326.5" r="1.0" fill="#8cd17d"/>
<circle cx="614.8" cy="328.1" r="1.0" fill="#8cd17d"/>
<circle cx="615.4" cy="329.8" r="1.0" fill="#8cd17d"/>
<circle cx="614.9" cy="331.5" r="1.0" fill="#8cd17d"/>
<rect x="610.4" y="320.0" width="9.2" height="6.6" fill="#d3d3d3" fill-opacity="0.6"/>
<line x1="610.4" y1="315.6" x2="619.6" y2="315.6" stroke="#6f6f6f" stroke-width="0.8"/>
<line x1="610.4" y1="332.3" x2="619.6" y2="332.3" stroke="#6f6f6f" stroke-width="0.8"/>
<circle cx="615.0" cy="305.5" r="1.1" fill="#8cd17d"/>
<circle cx="615.0" cy="310.5" r="1.1" fill="#8cd17d"/>
<line x1="632.8" y1="300.5" x2="632.8" y2="336.7" stroke="#b6992d" stroke-width="1.4"/>
<circle cx="633.2" cy="301.3" r="1.0" fill="#b6992d"/>
<circle cx="632.5" cy="303.0" r="1.0" fill="#b6992d"/>
<circle cx="633.1" cy="304.6" r="1.0" fill="#b6992d"/>
<circle cx="633.0" cy="306.3" r="1.0" fill="#b6992d"/>
<circle cx="632.4" cy="307.9" r="1.0" fill="#b6992d"/>
<circle cx="632.9" cy="309.6" r="1.0" fill="#b6992d"/>
<circle cx="632.6" cy="311.2" r="1.0" fill="#b6992d"/>
<circle cx="632.8" cy="312.8" r="1.0" fill="#b6992d"/>
<circle cx="632.8" cy="314.5" r="1.0" fill="#b6992d"/>
<circle cx="632.5" cy="316.1" r="1.0" fill="#b6992d"/>
<circle cx="633.1" cy="317.8" r="1.0" fill="#b6992d"/>
<circle cx="633.2" cy="319.4" r="1.0" fill="#b6992d"/>
<circle cx="632.9" cy="321.1" r="1.0" fill="#b6992d"/>
<circle cx="632.7" cy="322.7" r="1.0" fill="#b6992d"/>
<circle cx="632.9" cy="324.4" r="1.0" fill="#b6992d"/>
<circle cx="632.7" cy="326.0" r="1.0" fill="#b6992d"/>
<circle cx="632.9" cy="327.6" r="1.0" fill="#b6992d"/>
<circle cx="632.7" cy="329.3" r="1.0" fill="#b6992d"/>
<circle cx="632.5" cy="330.9" r="1.0" fill="#b6992d"/>
<circle cx="633.1" cy="332.6" r="1.0" fill="#b6992d"/>
<circle cx="632.7" cy="334.2" r="1.0" fill="#b6992d"/>
<circle cx="632.5" cy="335.9" r="1.0" fill="#b6992d"/>
<rect x="628.2" y="315.6" width="9.2" height="14.4" fill="#d3d3d3" fill-opacity="0.6"/>
<line x1="628.2" y1="323.5" x2="637.4" y2="323.5" stroke="#b5b5b5" stroke-width="1"/>
<line x1="628.2" y1="300.5" x2="637.4" y2="300.5" stroke="#6f6f6f" stroke-width="0.8"/>
<line x1="628.2" y1="336.7" x2="637.4" y2="336.7" stroke="#6f6f6f" stroke-width="0.8"/>
<circle cx="632.8" cy="228.5" r="1.1" fill="#b6992d"/>
<circle cx="632.8" cy="237.5" r="1.1" fill="#b6992d"/>
<circle cx="632.8" cy="261.0" r="1.1" fill="#b6992d"/>
<line x1="650.2" y1="278.7" x2="650.2" y2="286.4" stroke="#f1ce63" stroke-width="1.4"/>
<circle cx="649.8" cy="279.7" r="1.0" fill="#f1ce63"/>
<circle cx="650.2" cy="281.6" r="1.0" fill="#f1ce63"/>
<circle cx="649.9" cy="283.5" r="1.0" fill="#f1ce63"/>
<circle cx="650.4" cy="285.4" r="1.0" fill="#f1ce63"/>
<rect x="645.6" y="278.7" width="9.2" height="7.7" fill="#d3d3d3" fill-opacity="0.6"/>
<line x1="645.6" y1="278.7" x2="654.8" y2="278.7" stroke="#6f6f6f" stroke-width="0.8"/>
<line x1="645.6" y1="286.4" x2="654.8" y2="286.4" stroke="#6f6f6f" stroke-width="0.8"/>
<line x1="668.7" y1="297.8" x2="668.7" y2="322.3" stroke="#499894" stroke-width="1.4"/>
<circle cx="668.4" cy="298.6" r="1.0" fill="#499894"/>
<circle cx="668.3" cy="300.2" r="1.0" fill="#499894"/>
<circle cx="668.4" cy="301.9" r="1.0" fill="#499894"/>
<circle cx="668.9" cy="303.5" r="1.0" fill="#499894"/>
<circle cx="668.9" cy="305.2" r="1.0" fill="#499894"/>
<circle cx="669.0" cy="306.8" r="1.0" fill="#499894"/>
<circle cx="668.9" cy="308.4" r="1.0" fill="#499894"/>
<circle cx="668.5" cy="310.1" r="1.0" fill="#499894"/>
<circle cx="668.7" cy="311.7" r="1.0" fill="#499894"/>
<circle cx="668.7" cy="313.3" r="1.0" fill="#499894"/>
<circle cx="668.5" cy="314.9" r="1.0" fill="#499894"/>
<circle cx="668.6" cy="316.6" r="1.0" fill="#499894"/>
<circle cx="668.5" cy="318.2" r="1.0" fill="#499894"/>
<circle cx="668.4" cy="319.9" r="1.0" fill="#499894"/>
<circle cx="668.9" cy="321.5" r="1.0" fill="#499894"/>
<rect x="664.1" y="308.9" width="9.2" height="8.4" fill="#d3d3d3" fill-opacity="0.6"/>
<line x1="664.1" y1="297.8" x2="673.3" y2="297.8" stroke="#6f6f6f" stroke-width="0.8"/>
<line x1="664.1" y1="322.3" x2="673.3" y2="322.3" stroke="#6f6f6f" stroke-width="0.8"/>
<circle cx="668.7" cy="285.4" r="1.1" fill="#499894"/>
<line x1="686.4" y1="318.0" x2="686.4" y2="323.3" stroke="#86bcb6" stroke-width="1.4"/>
<circle cx="686.6" cy="318.7" r="1.0" fill="#86bcb6"/>
<circle cx="686.0" cy="320.0" r="1.0" fill="#86bcb6"/>
<circle cx="686.2" cy="321.3" r="1.0" fill="#86bcb6"/>
<circle cx="686.2" cy="322.6" r="1.0" fill="#86bcb6"/>
<rect x="681.8" y="318.0" width="9.2" height="5.3" fill="#d3d3d3" fill-opacity="0.6"/>
<line x1="681.8" y1="318.0" x2="691.0" y2="318.0" stroke="#6f6f6f" stroke-width="0.8"/>
<line x1="681.8" y1="323.3" x2="691.0" y2="323.3" stroke="#6f6f6f" stroke-width="0.8"/>
<circle cx="686.4" cy="307.2" r="1.1" fill="#86bcb6"/>
<line x1="703.9" y1="303.9" x2="703.9" y2="327.3" stroke="#e15759" stroke-width="1.4"/>
<circle cx="704.1" cy="304.7" r="1.0" fill="#e15759"/>
<circle cx="703.9" cy="306.4" r="1.0" fill="#e15759"/>
<circle cx="703.9" cy="308.1" r="1.0" fill="#e15759"/>
<circle cx="703.7" cy="309.8" r="1.0" fill="#e15759"/>
<circle cx="704.0" cy="311.4" r="1.0" fill="#e15759"/>
<circle cx="704.2" cy="313.1" r="1.0" fill="#e15759"/>
<circle cx="704.3" cy="314.8" r="1.0" fill="#e15759"/>
<circle cx="703.5" cy="316.4" r="1.0" fill="#e15759"/>
<circle cx="703.9" cy="318.1" r="1.0" fill="#e15759"/>
<circle cx="703.5" cy="319.8" r="1.0" fill="#e15759"/>
<circle cx="704.2" cy="321.4" r="1.0" fill="#e15759"/>
<circle cx="704.0" cy="323.1" r="1.0" fill="#e15759"/>
<circle cx="703.8" cy="324.8" r="1.0" fill="#e15759"/>
<circle cx="703.7" cy="326.5" r="1.0" fill="#e15759"/>
<rect x="699.3" y="313.9" width="9.2" height="8.4" fill="#d3d3d3" fill-opacity="0.6"/>
<line x1="699.3" y1="303.9" x2="708.5" y2="303.9" stroke="#6f6f6f" stroke-width="0.8"/>
<line x1="699.3" y1="327.3" x2="708.5" y2="327.3" stroke="#6f6f6f" stroke-width="0.8"/>
<circle cx="703.9" cy="295.5" r="1.1" fill="#e15759"/>
<line x1="721.4" y1="321.7" x2="721.4" y2="334.4" stroke="#ff9d9a" stroke-width="1.4"/>
<circle cx="721.0" cy="322.6" r="1.0" fill="#ff9d9a"/>
<circle cx="721.7" cy="324.4" r="1.0" fill="#ff9d9a"/>
<circle cx="721.7" cy="326.2" r="1.0" fill="#ff9d9a"/>
<circle cx="721.8" cy="328.0" r="1.0" fill="#ff9d9a"/>
<circle cx="721.7" cy="329.9" r="1.0" fill="#ff9d9a"/>
<circle cx="721.0" cy="331.7" r="1.0" fill="#ff9d9a"/>
<circle cx="721.7" cy="333.5" r="1.0" fill="#ff9d9a"/>
<rect x="716.8" y="325.0" width="9.2" height="5.0" fill="#d3d3d3" fill-opacity="0.6"/>
<line x1="716.8" y1="321.7" x2="726.0" y2="321.7" stroke="#6f6f6f" stroke-width="0.8"/>
<line x1="716.8" y1="334.4" x2="726.0" y2="334.4" stroke="#6f6f6f" stroke-width="0.8"/>
<line x1="740.0" y1="280.6" x2="740.0" y2="307.3" stroke="#79706e" stroke-width="1.4"/>
<circle cx="739.6" cy="281.4" r="1.0" fill="#79706e"/>
<circle cx="740.4" cy="283.1" r="1.0" fill="#79706e"/>
<circle cx="740.2" cy="284.8" r="1.0" fill="#79706e"/>
<circle cx="740.3" cy="286.4" r="1.0" fill="#79706e"/>
<circle cx="740.2" cy="288.1" r="1.0" fill="#79706e"/>
<circle cx="740.3" cy="289.8" r="1.0" fill="#79706e"/>
<circle cx="740.2" cy="291.4" r="1.0" fill="#79706e"/>
<circle cx="740.3" cy="293.1" r="1.0" fill="#79706e"/>
<circle cx="739.6" cy="294.8" r="1.0" fill="#79706e"/>
<circle cx="740.1" cy="296.5" r="1.0" fill="#79706e"/>
<circle cx="740.3" cy="298.1" r="1.0" fill="#79706e"/>
<circle cx="740.3" cy="299.8" r="1.0" fill="#79706e"/>
<circle cx="739.6" cy="301.5" r="1.0" fill="#79706e"/>
<circle cx="740.0" cy="303.1" r="1.0" fill="#79706e"/>
<circle cx="740.1" cy="304.8" r="1.0" fill="#79706e"/>
<circle cx="739.8" cy="306.5" r="1.0" fill="#79706e"/>
<rect x="735.4" y="290.8" width="9.2" height="11.4" fill="#d3d3d3" fill-opacity="0.6"/>
<line x1="735.4" y1="297.1" x2="744.6" y2="297.1" stroke="#b5b5b5" stroke-width="1"/>
<line x1="735.4" y1="280.6" x2="744.6" y2="280.6" stroke="#6f6f6f" stroke-width="0.8"/>
<line x1="735.4" y1="307.3" x2="744.6" y2="307.3" stroke="#6f6f6f" stroke-width="0.8"/>
<circle cx="740.0" cy="264.1" r="1.1" fill="#79706e"/>
<line x1="757.5" y1="326.8" x2="757.5" y2="331.4" stroke="#bab0ac" stroke-width="1.4"/>
<circle cx="757.4" cy="327.4" r="1.0" fill="#bab0ac"/>
<circle cx="757.8" cy="328.5" r="1.0" fill="#bab0ac"/>
<circle cx="757.9" cy="329.7" r="1.0" fill="#bab0ac"/>
<circle cx="757.6" cy="330.8" r="1.0" fill="#bab0ac"/>
<rect x="752.9" y="326.8" width="9.2" height="4.6" fill="#d3d3d3" fill-opacity="0.6"/>
<line x1="752.9" y1="326.8" x2="762.1" y2="326.8" stroke="#6f6f6f" stroke-width="0.8"/>
<line x1="752.9" y1="331.4" x2="762.1" y2="331.4" stroke="#6f6f6f" stroke-width="0.8"/>
<circle cx="757.5" cy="323.8" r="1.1" fill="#bab0ac"/>
<line x1="775.5" y1="328.3" x2="775.5" y2="335.2" stroke="#d37295" stroke-width="1.4"/>
<circle cx="775.8" cy="329.2" r="1.0" fill="#d37295"/>
<circle cx="775.2" cy="330.9" r="1.0" fill="#d37295"/>
<circle cx="775.5" cy="332.6" r="1.0" fill="#d37295"/>
<circle cx="775.2" cy="334.3" r="1.0" fill="#d37295"/>
<rect x="770.9" y="328.3" width="9.2" height="6.9" fill="#d3d3d3" fill-opacity="0.6"/>
<line x1="770.9" y1="328.3" x2="780.1" y2="328.3" stroke="#6f6f6f" stroke-width="0.8"/>
<line x1="770.9" y1="335.2" x2="780.1" y2="335.2" stroke="#6f6f6f" stroke-width="0.8"/>
<line x1="793.2" y1="330.0" x2="793.2" y2="336.0" stroke="#fabfd2" stroke-width="1.4"/>
<circle cx="792.9" cy="330.8" r="1.0" fill="#fabfd2"/>
<circle cx="793.2" cy="332.2" r="1.0" fill="#fabfd2"/>
<circle cx="793.3" cy="333.8" r="1.0" fill="#fabfd2"/>
<circle cx="793.0" cy="335.2" r="1.0" fill="#fabfd2"/>
<rect x="788.6" y="330.0" width="9.2" height="6.0" fill="#d3d3d3" fill-opacity="0.6"/>
<line x1="788.6" y1="330.0" x2="797.8" y2="330.0" stroke="#6f6f6f" stroke-width="0.8"/>
<line x1="788.6" y1="336.0" x2="797.8" y2="336.0" stroke="#6f6f6f" stroke-width="0.8"/>
<line x1="811.5" y1="327.6" x2="811.5" y2="334.4" stroke="#b07aa1" stroke-width="1.4"/>
<circle cx="811.6" cy="328.5" r="1.0" fill="#b07aa1"/>
<circle cx="811.8" cy="330.1" r="1.0" fill="#b07aa1"/>
<circle cx="811.7" cy="331.9" r="1.0" fill="#b07aa1"/>
<circle cx="811.6" cy="333.5" r="1.0" fill="#b07aa1"/>
<rect x="806.9" y="327.6" width="9.2" height="6.8" fill="#d3d3d3" fill-opacity="0.6"/>
<line x1="806.9" y1="327.6" x2="816.1" y2="327.6" stroke="#6f6f6f" stroke-width="0.8"/>
<line x1="806.9" y1="334.4" x2="816.1" y2="334.4" stroke="#6f6f6f" stroke-width="0.8"/>
<ellipse cx="576.2" cy="110.8" rx="16.5" ry="32.7" fill="none" stroke="#ec6b3f" stroke-width="1.7"/>
<ellipse cx="740.4" cy="133.4" rx="13.3" ry="15.4" fill="none" stroke="#ec6b3f" stroke-width="1.7"/>
<ellipse cx="579.4" cy="253.4" rx="16.2" ry="32.6" fill="none" stroke="#ec6b3f" stroke-width="1.7"/>
<ellipse cx="631.8" cy="242.7" rx="13.4" ry="27.7" fill="none" stroke="#ec6b3f" stroke-width="1.7"/>
<text x="615" y="46.9" font-family='"Liberation Sans", Arial, sans-serif' font-size="19" fill="#2a2a2e" textLength="193.6" lengthAdjust="spacingAndGlyphs">Summary per Region</text></svg>
</body></html>
